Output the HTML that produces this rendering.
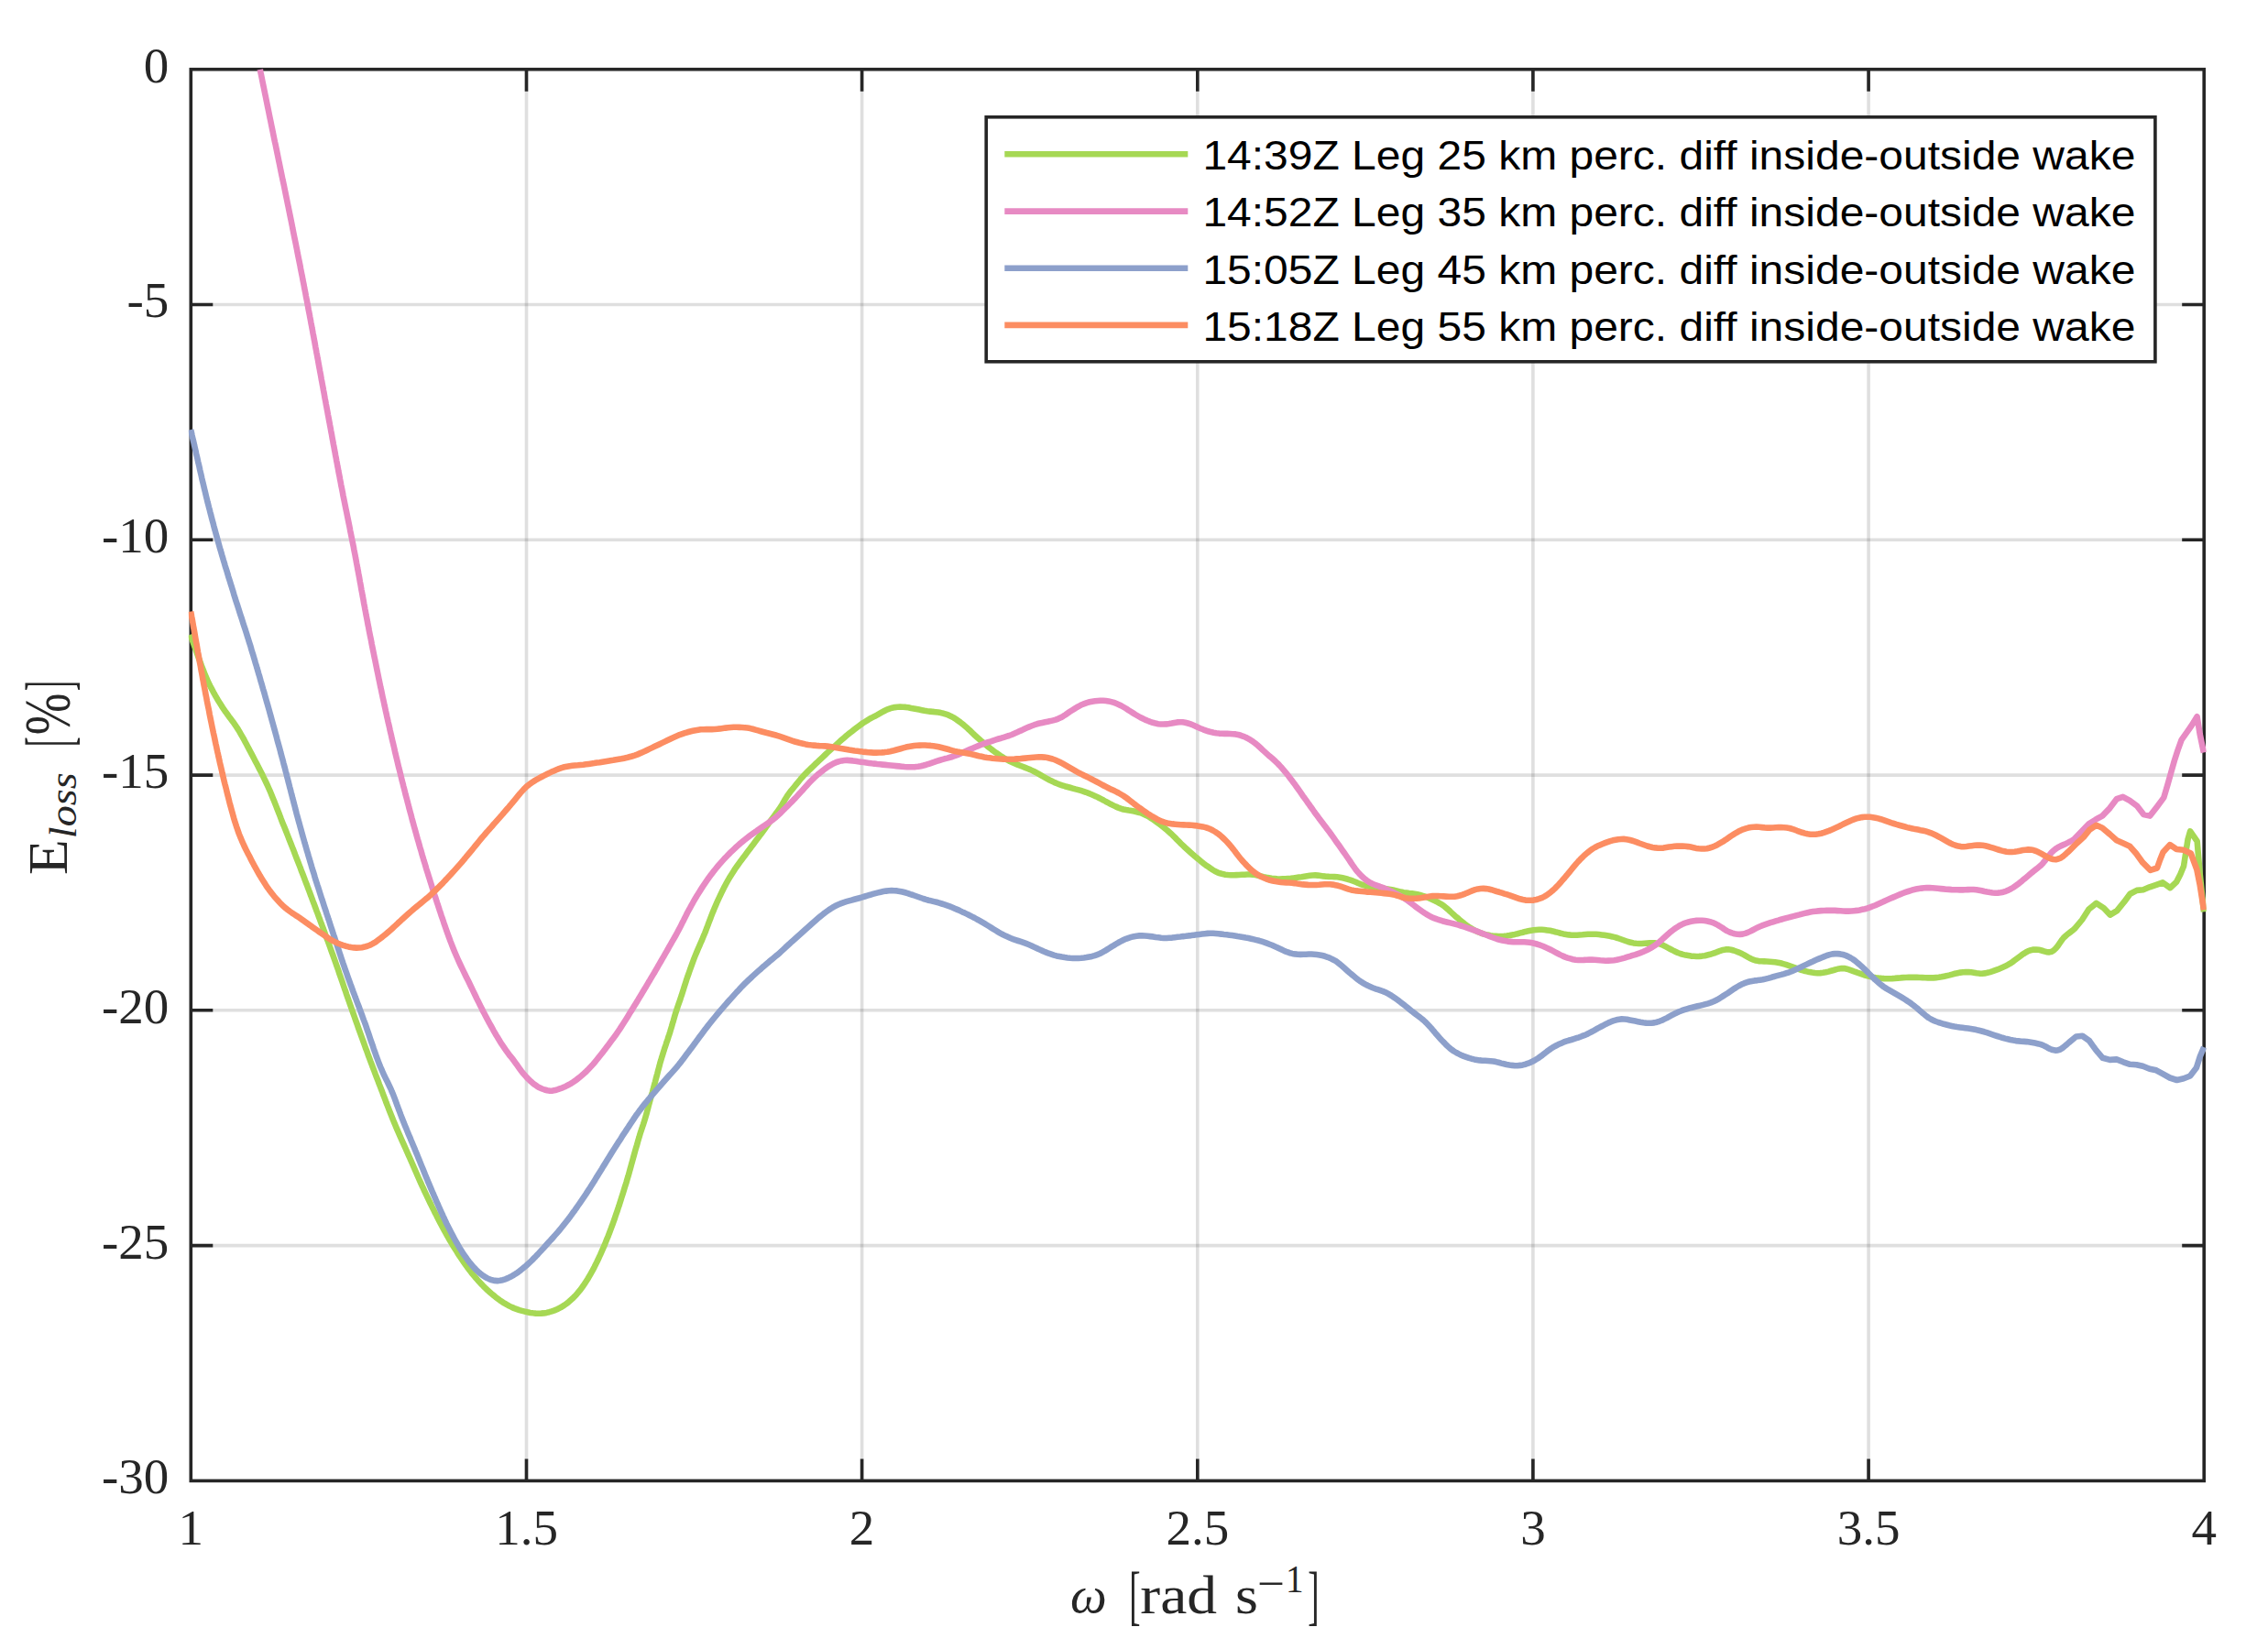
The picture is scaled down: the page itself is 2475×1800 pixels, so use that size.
<!DOCTYPE html>
<html lang="en"><head><meta charset="utf-8"><title>E loss vs omega</title>
<style>html,body{margin:0;padding:0;background:#fff}svg{display:block}</style></head>
<body>
<svg width="2475" height="1800" viewBox="0 0 2475 1800">
<rect width="2475" height="1800" fill="#fff"/>
<g stroke="#262626" stroke-opacity="0.15" stroke-width="3.6" fill="none"><path d="M574.5,75.7V1616.4"/><path d="M940.6,75.7V1616.4"/><path d="M1306.8,75.7V1616.4"/><path d="M1672.9,75.7V1616.4"/><path d="M2039.1,75.7V1616.4"/><path d="M208.3,332.5H2405.2"/><path d="M208.3,589.3H2405.2"/><path d="M208.3,846.1H2405.2"/><path d="M208.3,1102.8H2405.2"/><path d="M208.3,1359.6H2405.2"/></g>
<path d="M574.5,1616.4v-24.0M574.5,75.7v24.0M940.6,1616.4v-24.0M940.6,75.7v24.0M1306.8,1616.4v-24.0M1306.8,75.7v24.0M1672.9,1616.4v-24.0M1672.9,75.7v24.0M2039.1,1616.4v-24.0M2039.1,75.7v24.0M208.3,332.5h24.0M2405.2,332.5h-24.0M208.3,589.3h24.0M2405.2,589.3h-24.0M208.3,846.1h24.0M2405.2,846.1h-24.0M208.3,1102.8h24.0M2405.2,1102.8h-24.0M208.3,1359.6h24.0M2405.2,1359.6h-24.0" stroke="#262626" stroke-width="3.6" fill="none"/>
<rect x="208.3" y="75.7" width="2196.9" height="1540.7" fill="none" stroke="#262626" stroke-width="3.6"/>
<clipPath id="cp"><rect x="205.8" y="73.9" width="2201.9" height="1544.3"/></clipPath>
<g clip-path="url(#cp)" fill="none" stroke-width="6.6" stroke-linejoin="round" stroke-linecap="butt">
<path stroke="#A6D854" d="M207.6,692.8L208.7,695.6 209.7,698.5 210.8,701.3 211.8,704.1 212.8,706.9 213.8,709.8 214.8,712.6 215.8,715.4 216.8,718.2 217.9,721.0 218.9,723.9 219.9,726.7 221.0,729.5 222.1,732.3 223.2,735.1 224.3,737.8 225.5,740.6 226.7,743.3 228.0,746.1 229.3,748.8 230.7,751.4 232.1,754.1 233.5,756.7 235.0,759.3 236.5,761.9 238.0,764.5 239.6,767.0 241.2,769.6 242.8,772.1 244.5,774.6 246.2,777.1 248.0,779.5 249.7,781.9 251.5,784.3 253.3,786.7 255.1,789.1 256.8,791.6 258.5,794.1 260.1,796.6 261.6,799.2 263.1,801.8 264.6,804.4 266.1,807.0 267.5,809.7 268.9,812.3 270.3,815.0 271.7,817.6 273.1,820.3 274.5,822.9 275.9,825.6 277.3,828.2 278.7,830.9 280.1,833.6 281.5,836.2 282.8,838.9 284.2,841.5 285.6,844.2 286.9,846.9 288.2,849.6 289.5,852.3 290.8,855.0 292.1,857.7 293.3,860.5 294.5,863.2 295.7,866.0 296.8,868.8 297.9,871.5 299.1,874.3 300.2,877.1 301.3,879.9 302.4,882.7 303.5,885.5 304.6,888.3 305.7,891.1 306.7,893.9 307.8,896.7 308.9,899.4 310.1,902.2 311.2,905.0 312.3,907.8 313.4,910.6 314.5,913.4 315.6,916.2 316.7,919.0 317.8,921.8 318.9,924.6 320.0,927.3 321.1,930.1 322.1,932.9 323.2,935.7 324.3,938.5 325.4,941.3 326.5,944.1 327.6,946.9 328.6,949.7 329.7,952.5 330.8,955.3 331.9,958.1 332.9,960.9 334.0,963.7 335.1,966.5 336.1,969.3 337.2,972.1 338.3,975.0 339.3,977.8 340.4,980.6 341.4,983.4 342.5,986.2 343.5,989.0 344.6,991.8 345.6,994.6 346.7,997.4 347.7,1000.2 348.8,1003.0 349.8,1005.9 350.9,1008.7 351.9,1011.5 353.0,1014.3 354.0,1017.1 355.0,1019.9 356.1,1022.7 357.1,1025.6 358.2,1028.4 359.2,1031.2 360.2,1034.0 361.2,1036.8 362.2,1039.6 363.3,1042.5 364.3,1045.3 365.3,1048.1 366.3,1051.0 367.3,1053.8 368.3,1056.6 369.3,1059.4 370.2,1062.3 371.2,1065.1 372.2,1068.0 373.2,1070.8 374.1,1073.6 375.1,1076.5 376.1,1079.3 377.1,1082.1 378.0,1085.0 379.0,1087.8 380.0,1090.6 381.0,1093.5 382.0,1096.3 383.0,1099.1 384.0,1102.0 385.0,1104.8 386.0,1107.6 387.0,1110.5 388.0,1113.3 389.0,1116.1 390.0,1118.9 391.0,1121.8 392.0,1124.6 393.0,1127.4 394.0,1130.2 395.1,1133.1 396.1,1135.9 397.1,1138.7 398.1,1141.5 399.1,1144.3 400.2,1147.2 401.2,1150.0 402.2,1152.8 403.3,1155.6 404.3,1158.4 405.4,1161.2 406.4,1164.0 407.5,1166.8 408.6,1169.6 409.6,1172.4 410.7,1175.2 411.8,1178.0 412.9,1180.8 413.9,1183.6 415.0,1186.4 416.1,1189.2 417.2,1192.0 418.2,1194.8 419.3,1197.7 420.4,1200.5 421.4,1203.3 422.5,1206.1 423.6,1208.9 424.7,1211.7 425.8,1214.5 426.9,1217.2 428.0,1220.0 429.1,1222.8 430.3,1225.6 431.4,1228.3 432.6,1231.1 433.8,1233.9 435.0,1236.6 436.2,1239.4 437.4,1242.1 438.6,1244.8 439.9,1247.6 441.1,1250.3 442.3,1253.0 443.5,1255.8 444.7,1258.5 446.0,1261.3 447.2,1264.0 448.4,1266.8 449.6,1269.5 450.8,1272.3 452.0,1275.0 453.2,1277.8 454.4,1280.5 455.6,1283.3 456.8,1286.0 458.0,1288.7 459.3,1291.5 460.5,1294.2 461.8,1296.9 463.0,1299.6 464.3,1302.4 465.6,1305.1 466.9,1307.8 468.2,1310.5 469.5,1313.2 470.8,1315.9 472.1,1318.6 473.5,1321.3 474.8,1323.9 476.2,1326.6 477.5,1329.3 478.9,1332.0 480.3,1334.6 481.7,1337.3 483.1,1339.9 484.5,1342.6 486.0,1345.2 487.4,1347.8 488.9,1350.4 490.4,1353.0 491.9,1355.6 493.5,1358.2 495.0,1360.7 496.6,1363.3 498.2,1365.8 499.8,1368.4 501.4,1370.9 503.1,1373.4 504.8,1375.9 506.5,1378.4 508.2,1380.8 509.9,1383.2 511.7,1385.6 513.6,1388.0 515.4,1390.4 517.3,1392.7 519.3,1395.0 521.2,1397.2 523.3,1399.5 525.3,1401.6 527.4,1403.8 529.5,1405.9 531.7,1408.0 533.9,1410.0 536.2,1412.0 538.5,1413.9 540.8,1415.8 543.2,1417.6 545.6,1419.4 548.1,1421.1 550.6,1422.7 553.2,1424.2 555.8,1425.6 558.5,1426.9 561.3,1428.1 564.1,1429.1 566.9,1430.1 569.8,1430.9 572.7,1431.6 575.7,1432.3 578.6,1432.9 581.6,1433.3 584.5,1433.6 587.5,1433.7 590.5,1433.6 593.5,1433.4 596.5,1432.9 599.4,1432.2 602.2,1431.4 605.1,1430.4 607.8,1429.3 610.5,1427.9 613.1,1426.5 615.6,1424.9 618.1,1423.1 620.4,1421.3 622.7,1419.3 624.9,1417.3 627.0,1415.2 629.1,1413.0 631.0,1410.7 632.9,1408.4 634.7,1406.0 636.5,1403.5 638.1,1401.1 639.8,1398.5 641.4,1396.0 642.9,1393.4 644.4,1390.8 645.9,1388.2 647.3,1385.6 648.7,1382.9 650.0,1380.2 651.4,1377.5 652.7,1374.8 653.9,1372.1 655.2,1369.4 656.4,1366.7 657.6,1363.9 658.8,1361.2 660.0,1358.4 661.1,1355.6 662.2,1352.8 663.4,1350.0 664.4,1347.3 665.5,1344.5 666.6,1341.6 667.6,1338.8 668.7,1336.0 669.7,1333.2 670.7,1330.4 671.6,1327.5 672.6,1324.7 673.6,1321.8 674.5,1319.0 675.5,1316.2 676.4,1313.3 677.3,1310.4 678.2,1307.6 679.1,1304.7 680.0,1301.9 680.9,1299.0 681.8,1296.1 682.7,1293.3 683.6,1290.4 684.4,1287.5 685.3,1284.6 686.1,1281.8 686.9,1278.9 687.7,1276.0 688.5,1273.1 689.3,1270.2 690.1,1267.3 690.9,1264.4 691.7,1261.5 692.5,1258.6 693.3,1255.7 694.1,1252.9 695.0,1250.0 695.8,1247.1 696.6,1244.2 697.5,1241.3 698.3,1238.5 699.2,1235.6 700.2,1232.7 701.1,1229.9 702.1,1227.1 703.0,1224.2 703.9,1221.3 704.7,1218.5 705.6,1215.6 706.3,1212.7 707.1,1209.8 707.8,1206.9 708.6,1204.0 709.4,1201.1 710.2,1198.2 711.0,1195.3 711.9,1192.4 712.7,1189.5 713.4,1186.6 714.2,1183.7 715.0,1180.8 715.7,1177.9 716.5,1175.0 717.3,1172.1 718.0,1169.2 718.8,1166.3 719.6,1163.4 720.3,1160.5 721.2,1157.6 722.0,1154.8 722.9,1151.9 723.8,1149.0 724.7,1146.2 725.6,1143.3 726.6,1140.5 727.5,1137.6 728.5,1134.8 729.4,1131.9 730.4,1129.1 731.3,1126.2 732.1,1123.4 733.0,1120.5 733.8,1117.6 734.7,1114.7 735.5,1111.8 736.3,1109.0 737.2,1106.1 738.1,1103.2 739.0,1100.4 740.0,1097.5 741.0,1094.7 742.0,1091.9 742.9,1089.0 743.9,1086.2 744.8,1083.3 745.7,1080.5 746.6,1077.6 747.5,1074.7 748.4,1071.9 749.3,1069.0 750.3,1066.2 751.3,1063.3 752.3,1060.5 753.3,1057.7 754.3,1054.9 755.3,1052.1 756.4,1049.2 757.4,1046.4 758.5,1043.6 759.6,1040.9 760.8,1038.1 762.0,1035.3 763.2,1032.6 764.4,1029.8 765.6,1027.1 766.8,1024.3 767.9,1021.6 769.1,1018.8 770.2,1016.0 771.2,1013.2 772.3,1010.4 773.3,1007.6 774.4,1004.8 775.5,1002.0 776.5,999.2 777.6,996.4 778.8,993.6 779.9,990.8 781.1,988.1 782.3,985.3 783.5,982.6 784.8,979.9 786.1,977.1 787.4,974.4 788.7,971.8 790.0,969.1 791.4,966.4 792.8,963.8 794.3,961.2 795.8,958.6 797.4,956.0 799.0,953.5 800.6,950.9 802.2,948.4 803.9,946.0 805.7,943.5 807.4,941.1 809.2,938.7 811.0,936.3 812.8,933.9 814.6,931.5 816.4,929.1 818.2,926.7 820.0,924.3 821.8,921.9 823.6,919.5 825.4,917.1 827.2,914.7 829.0,912.3 830.8,909.9 832.6,907.5 834.4,905.0 836.1,902.6 837.9,900.2 839.6,897.7 841.4,895.3 843.2,892.9 845.0,890.5 846.7,888.1 848.5,885.7 850.3,883.2 851.9,880.7 853.5,878.2 855.0,875.6 856.5,873.0 858.1,870.4 859.7,867.9 861.5,865.5 863.3,863.1 865.2,860.8 867.1,858.5 869.0,856.1 870.9,853.8 872.8,851.5 874.7,849.2 876.7,847.0 878.8,844.8 880.9,842.7 883.0,840.6 885.2,838.5 887.4,836.4 889.5,834.3 891.7,832.3 893.9,830.2 896.1,828.1 898.2,826.1 900.4,824.0 902.6,821.9 904.8,819.9 907.0,817.9 909.2,815.9 911.5,813.9 913.7,811.9 915.9,809.9 918.2,807.8 920.4,805.9 922.7,803.9 925.0,802.0 927.3,800.1 929.7,798.3 932.1,796.4 934.4,794.6 936.8,792.8 939.3,791.0 941.7,789.3 944.2,787.7 946.8,786.1 949.3,784.5 952.0,783.1 954.7,781.8 957.3,780.4 959.9,778.9 962.5,777.4 965.1,776.0 967.8,774.6 970.6,773.6 973.5,772.7 976.4,772.1 979.4,771.8 982.3,771.6 985.3,771.7 988.3,771.9 991.3,772.3 994.2,772.9 997.2,773.4 1000.1,774.0 1003.0,774.6 1006.0,775.2 1008.9,775.8 1011.9,776.3 1014.9,776.6 1017.8,776.9 1020.8,777.2 1023.8,777.6 1026.7,778.1 1029.7,778.8 1032.5,779.7 1035.3,780.7 1038.0,782.0 1040.7,783.4 1043.2,785.0 1045.6,786.7 1048.1,788.5 1050.4,790.3 1052.7,792.3 1055.0,794.2 1057.2,796.3 1059.4,798.3 1061.5,800.4 1063.7,802.5 1065.9,804.5 1068.2,806.5 1070.4,808.5 1072.7,810.4 1075.0,812.4 1077.3,814.3 1079.6,816.1 1082.0,818.0 1084.4,819.8 1086.8,821.6 1089.3,823.3 1091.8,825.0 1094.3,826.6 1096.8,828.2 1099.5,829.6 1102.1,831.0 1104.8,832.2 1107.6,833.4 1110.4,834.6 1113.2,835.7 1115.9,836.8 1118.7,837.9 1121.5,839.0 1124.3,840.1 1127.0,841.4 1129.7,842.8 1132.3,844.2 1134.9,845.7 1137.5,847.2 1140.1,848.6 1142.8,850.1 1145.4,851.5 1148.1,852.8 1150.8,854.1 1153.6,855.3 1156.4,856.4 1159.2,857.3 1162.1,858.2 1165.0,859.0 1167.9,859.8 1170.7,860.6 1173.6,861.4 1176.5,862.1 1179.4,862.9 1182.3,863.8 1185.1,864.8 1187.9,865.9 1190.7,867.0 1193.5,868.2 1196.2,869.4 1198.9,870.7 1201.6,872.1 1204.2,873.5 1206.8,875.0 1209.5,876.4 1212.1,877.8 1214.8,879.1 1217.5,880.4 1220.3,881.6 1223.1,882.6 1225.9,883.5 1228.9,884.1 1231.8,884.6 1234.8,885.0 1237.7,885.5 1240.6,886.2 1243.5,887.0 1246.4,888.0 1249.1,889.2 1251.8,890.5 1254.4,892.0 1256.9,893.6 1259.4,895.3 1261.8,897.0 1264.3,898.8 1266.7,900.6 1269.0,902.4 1271.4,904.3 1273.7,906.2 1275.9,908.2 1278.1,910.2 1280.3,912.3 1282.4,914.4 1284.5,916.6 1286.6,918.7 1288.7,920.8 1290.9,922.9 1293.1,925.0 1295.3,927.0 1297.5,929.0 1299.7,931.0 1302.0,933.0 1304.3,935.0 1306.6,936.9 1308.9,938.8 1311.2,940.7 1313.5,942.6 1315.9,944.4 1318.4,946.1 1320.8,947.8 1323.4,949.5 1325.9,951.0 1328.6,952.3 1331.4,953.3 1334.3,954.1 1337.2,954.7 1340.2,955.0 1343.2,955.2 1346.2,955.2 1349.2,955.1 1352.2,955.0 1355.2,954.8 1358.2,954.7 1361.2,954.5 1364.1,954.5 1367.1,954.7 1370.1,955.1 1373.0,955.7 1375.9,956.4 1378.8,957.2 1381.8,957.8 1384.7,958.3 1387.7,958.8 1390.7,959.1 1393.6,959.4 1396.6,959.5 1399.6,959.4 1402.6,959.3 1405.6,959.0 1408.6,958.8 1411.6,958.4 1414.6,958.0 1417.5,957.6 1420.5,957.2 1423.4,956.7 1426.4,956.2 1429.4,955.8 1432.3,955.5 1435.3,955.4 1438.3,955.6 1441.3,956.0 1444.2,956.4 1447.2,956.7 1450.2,956.9 1453.2,957.0 1456.2,957.1 1459.2,957.3 1462.2,957.7 1465.1,958.3 1468.0,959.0 1470.9,959.8 1473.7,960.7 1476.6,961.7 1479.4,962.8 1482.1,964.0 1484.9,965.1 1487.7,966.1 1490.6,966.9 1493.5,967.6 1496.5,968.2 1499.4,968.7 1502.4,969.1 1505.4,969.4 1508.3,969.7 1511.3,970.0 1514.3,970.4 1517.3,970.9 1520.2,971.5 1523.1,972.2 1526.0,972.9 1528.9,973.6 1531.9,974.2 1534.8,974.6 1537.8,975.0 1540.8,975.3 1543.8,975.7 1546.7,976.2 1549.6,976.9 1552.5,977.8 1555.3,978.7 1558.1,979.8 1560.9,981.0 1563.6,982.2 1566.4,983.5 1569.0,984.8 1571.6,986.3 1574.2,987.9 1576.6,989.7 1578.9,991.6 1581.1,993.5 1583.3,995.6 1585.5,997.6 1587.7,999.7 1590.0,1001.6 1592.3,1003.6 1594.6,1005.5 1596.9,1007.4 1599.2,1009.3 1601.7,1011.0 1604.2,1012.7 1606.8,1014.2 1609.4,1015.6 1612.1,1016.9 1614.9,1018.0 1617.7,1019.1 1620.6,1019.9 1623.5,1020.6 1626.4,1021.2 1629.4,1021.7 1632.3,1021.9 1635.3,1022.1 1638.3,1022.1 1641.3,1021.9 1644.3,1021.6 1647.3,1021.1 1650.2,1020.5 1653.1,1019.9 1656.0,1019.2 1659.0,1018.4 1661.8,1017.7 1664.7,1016.9 1667.7,1016.3 1670.6,1015.7 1673.6,1015.3 1676.6,1015.0 1679.6,1014.8 1682.5,1014.8 1685.5,1015.0 1688.5,1015.4 1691.5,1015.8 1694.4,1016.4 1697.3,1017.2 1700.2,1017.9 1703.1,1018.7 1706.0,1019.4 1709.0,1019.9 1711.9,1020.4 1714.9,1020.7 1717.9,1020.8 1720.9,1020.7 1723.9,1020.5 1726.9,1020.3 1729.9,1020.0 1732.8,1019.8 1735.8,1019.7 1738.8,1019.7 1741.8,1019.8 1744.8,1020.0 1747.8,1020.4 1750.8,1020.8 1753.7,1021.3 1756.7,1021.8 1759.6,1022.4 1762.5,1023.1 1765.4,1024.0 1768.2,1025.0 1771.0,1026.0 1773.8,1027.0 1776.7,1028.0 1779.6,1028.7 1782.5,1029.4 1785.5,1029.8 1788.5,1030.0 1791.4,1030.0 1794.4,1029.8 1797.4,1029.6 1800.4,1029.4 1803.4,1029.3 1806.4,1029.4 1809.3,1029.8 1812.1,1030.6 1814.9,1031.8 1817.5,1033.2 1820.2,1034.6 1822.8,1036.0 1825.5,1037.4 1828.2,1038.7 1830.9,1040.0 1833.7,1041.0 1836.6,1041.9 1839.5,1042.6 1842.4,1043.1 1845.4,1043.6 1848.4,1043.8 1851.3,1044.0 1854.3,1043.9 1857.3,1043.6 1860.3,1043.2 1863.2,1042.5 1866.1,1041.8 1869.0,1040.9 1871.8,1040.0 1874.6,1038.9 1877.4,1037.8 1880.2,1036.9 1883.1,1036.4 1886.1,1036.3 1889.0,1036.7 1891.9,1037.5 1894.7,1038.5 1897.5,1039.6 1900.2,1040.8 1902.9,1042.1 1905.5,1043.6 1908.1,1045.1 1910.8,1046.5 1913.5,1047.7 1916.3,1048.6 1919.2,1049.1 1922.2,1049.3 1925.2,1049.4 1928.2,1049.5 1931.2,1049.7 1934.2,1050.0 1937.2,1050.3 1940.1,1050.7 1943.1,1051.3 1946.0,1052.1 1948.8,1052.9 1951.7,1053.9 1954.5,1054.8 1957.3,1055.8 1960.2,1056.8 1963.0,1057.8 1965.8,1058.8 1968.7,1059.7 1971.6,1060.4 1974.5,1061.1 1977.5,1061.6 1980.4,1062.0 1983.4,1062.2 1986.4,1062.1 1989.4,1061.8 1992.3,1061.3 1995.2,1060.6 1998.1,1059.8 2001.0,1059.0 2003.9,1058.1 2006.8,1057.4 2009.7,1057.0 2012.6,1057.1 2015.5,1057.7 2018.4,1058.6 2021.2,1059.6 2024.0,1060.7 2026.8,1061.7 2029.6,1062.6 2032.5,1063.6 2035.3,1064.5 2038.2,1065.4 2041.1,1066.1 2044.1,1066.7 2047.0,1067.2 2050.0,1067.6 2053.0,1067.9 2056.0,1068.1 2059.0,1068.2 2061.9,1068.2 2064.9,1068.1 2067.9,1067.9 2070.9,1067.6 2073.9,1067.4 2076.9,1067.1 2079.9,1067.0 2082.9,1066.9 2085.9,1066.9 2088.9,1066.9 2091.9,1066.9 2094.9,1067.0 2097.9,1067.1 2100.9,1067.2 2103.9,1067.4 2106.9,1067.4 2109.9,1067.4 2112.8,1067.1 2115.8,1066.8 2118.8,1066.3 2121.7,1065.7 2124.7,1065.1 2127.6,1064.4 2130.5,1063.6 2133.4,1062.8 2136.3,1062.2 2139.2,1061.6 2142.2,1061.3 2145.2,1061.1 2148.2,1061.0 2151.1,1061.3 2154.1,1061.7 2157.0,1062.2 2160.0,1062.6 2163.0,1062.7 2165.9,1062.4 2168.8,1061.8 2171.7,1061.1 2174.6,1060.2 2177.4,1059.2 2180.2,1058.2 2183.0,1057.0 2185.8,1055.8 2188.5,1054.6 2191.1,1053.2 2193.7,1051.7 2196.2,1050.0 2198.6,1048.2 2201.0,1046.4 2203.4,1044.6 2205.8,1042.8 2208.3,1041.1 2210.8,1039.5 2213.4,1038.1 2216.2,1037.2 2219.1,1036.6 2222.1,1036.5 2225.0,1036.8 2227.9,1037.5 2230.7,1038.4 2233.5,1039.2 2236.3,1039.4 2239.0,1038.7 2241.4,1037.2 2243.5,1035.2 2245.4,1032.9 2247.1,1030.4 2248.8,1027.9 2250.5,1025.5 2252.4,1023.2 2254.6,1021.2 2256.9,1019.3 2259.3,1017.5 2261.7,1015.7 2263.6,1014.1 2263.9,1013.8 2272.1,1004.0 2279.5,992.5 2287.7,985.9 2295.8,991.3 2302.8,998.6 2310.2,994.1 2317.9,984.7 2324.5,975.7 2331.9,971.9 2338.8,971.2 2345.8,968.3 2353.1,965.9 2360.1,963.4 2368.3,969.2 2375.2,962.6 2379.3,954.4 2383.0,945.4 2387.5,916.4 2390.1,907.4 2394.1,913.1 2397.7,918.4 2400.6,953.2 2405.0,995.4"/>
<path stroke="#E78AC3" d="M283.8,75.9L284.4,78.8 285.0,81.7 285.6,84.7 286.2,87.6 286.8,90.6 287.4,93.5 288.0,96.4 288.6,99.4 289.2,102.3 289.8,105.2 290.4,108.2 291.0,111.1 291.6,114.1 292.2,117.0 292.8,119.9 293.4,122.9 294.0,125.8 294.6,128.8 295.2,131.7 295.8,134.6 296.4,137.6 297.0,140.5 297.6,143.4 298.2,146.4 298.8,149.3 299.4,152.3 300.0,155.2 300.7,158.1 301.3,161.1 301.9,164.0 302.5,167.0 303.1,169.9 303.7,172.8 304.3,175.8 304.9,178.7 305.5,181.6 306.1,184.6 306.7,187.5 307.3,190.5 307.9,193.4 308.5,196.3 309.2,199.3 309.8,202.2 310.4,205.1 311.0,208.1 311.6,211.0 312.2,214.0 312.8,216.9 313.4,219.8 314.0,222.8 314.6,225.7 315.2,228.7 315.8,231.6 316.4,234.5 317.0,237.5 317.6,240.4 318.2,243.4 318.8,246.3 319.3,249.2 319.9,252.2 320.5,255.1 321.1,258.1 321.7,261.0 322.3,263.9 322.9,266.9 323.5,269.8 324.1,272.8 324.6,275.7 325.2,278.7 325.8,281.6 326.4,284.5 327.0,287.5 327.6,290.4 328.1,293.4 328.7,296.3 329.3,299.3 329.9,302.2 330.4,305.2 331.0,308.1 331.6,311.0 332.1,314.0 332.7,316.9 333.3,319.9 333.8,322.8 334.4,325.8 335.0,328.7 335.5,331.7 336.1,334.6 336.6,337.6 337.2,340.5 337.8,343.5 338.3,346.4 338.9,349.4 339.4,352.3 340.0,355.3 340.5,358.2 341.1,361.2 341.6,364.1 342.2,367.0 342.7,370.0 343.3,372.9 343.8,375.9 344.3,378.8 344.9,381.8 345.4,384.8 346.0,387.7 346.5,390.7 347.1,393.6 347.6,396.6 348.1,399.5 348.7,402.5 349.2,405.4 349.8,408.4 350.3,411.3 350.8,414.3 351.4,417.2 351.9,420.2 352.5,423.1 353.0,426.1 353.6,429.0 354.1,432.0 354.6,434.9 355.2,437.9 355.7,440.8 356.3,443.8 356.8,446.7 357.4,449.7 357.9,452.6 358.5,455.6 359.0,458.5 359.6,461.5 360.1,464.4 360.7,467.4 361.2,470.3 361.8,473.3 362.3,476.2 362.8,479.2 363.4,482.1 363.9,485.1 364.5,488.0 365.0,491.0 365.6,493.9 366.1,496.9 366.7,499.8 367.2,502.8 367.8,505.7 368.3,508.7 368.9,511.6 369.4,514.5 370.0,517.5 370.6,520.4 371.1,523.4 371.7,526.3 372.2,529.3 372.8,532.2 373.4,535.2 374.0,538.1 374.5,541.1 375.1,544.0 375.7,546.9 376.3,549.9 376.9,552.8 377.5,555.8 378.1,558.7 378.7,561.7 379.3,564.6 379.9,567.5 380.5,570.5 381.1,573.4 381.7,576.4 382.2,579.3 382.8,582.2 383.4,585.2 384.0,588.1 384.6,591.1 385.2,594.0 385.8,596.9 386.3,599.9 386.9,602.8 387.5,605.8 388.0,608.7 388.6,611.7 389.1,614.6 389.7,617.6 390.2,620.5 390.8,623.5 391.3,626.4 391.9,629.4 392.4,632.3 392.9,635.3 393.5,638.2 394.0,641.2 394.5,644.1 395.1,647.1 395.6,650.0 396.2,653.0 396.7,655.9 397.2,658.9 397.8,661.8 398.3,664.8 398.9,667.7 399.4,670.7 400.0,673.6 400.6,676.6 401.1,679.5 401.7,682.5 402.3,685.4 402.8,688.4 403.4,691.3 404.0,694.3 404.6,697.2 405.2,700.1 405.7,703.1 406.3,706.0 406.9,709.0 407.5,711.9 408.1,714.9 408.7,717.8 409.3,720.7 409.9,723.7 410.5,726.6 411.1,729.6 411.7,732.5 412.3,735.4 412.9,738.4 413.5,741.3 414.1,744.2 414.7,747.2 415.3,750.1 416.0,753.0 416.6,756.0 417.2,758.9 417.8,761.8 418.5,764.8 419.1,767.7 419.7,770.6 420.4,773.6 421.0,776.5 421.7,779.4 422.3,782.4 423.0,785.3 423.6,788.2 424.3,791.1 425.0,794.1 425.6,797.0 426.3,799.9 427.0,802.8 427.6,805.8 428.3,808.7 429.0,811.6 429.7,814.5 430.4,817.5 431.0,820.4 431.7,823.3 432.4,826.2 433.1,829.1 433.8,832.0 434.5,835.0 435.2,837.9 436.0,840.8 436.7,843.7 437.4,846.6 438.1,849.5 438.8,852.4 439.6,855.3 440.3,858.3 441.1,861.2 441.8,864.1 442.5,867.0 443.3,869.9 444.1,872.8 444.8,875.7 445.6,878.6 446.3,881.5 447.1,884.4 447.9,887.3 448.7,890.2 449.4,893.1 450.2,896.0 451.0,898.9 451.8,901.8 452.6,904.7 453.4,907.5 454.2,910.4 455.0,913.3 455.8,916.2 456.7,919.1 457.5,922.0 458.3,924.9 459.2,927.7 460.0,930.6 460.8,933.5 461.7,936.4 462.5,939.3 463.4,942.1 464.3,945.0 465.1,947.9 466.0,950.7 466.9,953.6 467.8,956.5 468.7,959.3 469.6,962.2 470.5,965.1 471.4,967.9 472.3,970.8 473.2,973.6 474.1,976.5 475.1,979.3 476.0,982.2 476.9,985.1 477.9,987.9 478.8,990.8 479.7,993.6 480.7,996.4 481.6,999.3 482.6,1002.1 483.6,1005.0 484.5,1007.8 485.5,1010.6 486.5,1013.5 487.5,1016.3 488.5,1019.1 489.5,1022.0 490.6,1024.8 491.6,1027.6 492.7,1030.4 493.8,1033.2 494.9,1036.0 496.0,1038.7 497.2,1041.5 498.4,1044.3 499.6,1047.0 500.8,1049.7 502.1,1052.5 503.4,1055.2 504.7,1057.9 506.0,1060.6 507.3,1063.3 508.6,1066.0 509.9,1068.6 511.3,1071.3 512.6,1074.0 513.9,1076.7 515.2,1079.4 516.5,1082.1 517.8,1084.8 519.1,1087.5 520.4,1090.2 521.8,1092.9 523.1,1095.6 524.4,1098.3 525.8,1101.0 527.1,1103.7 528.5,1106.3 529.9,1109.0 531.3,1111.6 532.7,1114.3 534.1,1116.9 535.6,1119.5 537.1,1122.2 538.5,1124.8 540.0,1127.4 541.5,1130.0 543.1,1132.5 544.6,1135.1 546.2,1137.7 547.8,1140.2 549.5,1142.7 551.2,1145.2 552.9,1147.6 554.7,1150.0 556.5,1152.4 558.4,1154.7 560.3,1157.1 562.0,1159.5 563.8,1161.9 565.5,1164.4 567.2,1166.8 569.0,1169.2 570.9,1171.6 572.9,1173.9 574.9,1176.1 576.9,1178.2 579.1,1180.3 581.4,1182.3 583.7,1184.1 586.2,1185.8 588.8,1187.3 591.5,1188.5 594.3,1189.5 597.2,1190.3 600.1,1190.7 603.1,1190.6 605.9,1190.1 608.8,1189.2 611.6,1188.2 614.4,1187.1 617.1,1185.9 619.8,1184.5 622.4,1183.1 625.0,1181.5 627.5,1179.8 629.9,1178.0 632.2,1176.2 634.5,1174.3 636.8,1172.3 639.0,1170.3 641.1,1168.2 643.2,1166.0 645.3,1163.8 647.3,1161.6 649.2,1159.3 651.1,1157.0 653.0,1154.7 654.9,1152.3 656.7,1150.0 658.6,1147.6 660.4,1145.2 662.2,1142.8 664.0,1140.4 665.8,1138.0 667.6,1135.6 669.4,1133.2 671.2,1130.8 672.9,1128.3 674.6,1125.9 676.3,1123.4 677.9,1120.9 679.6,1118.3 681.2,1115.8 682.8,1113.3 684.4,1110.7 685.9,1108.2 687.5,1105.6 689.1,1103.1 690.7,1100.5 692.2,1098.0 693.8,1095.4 695.4,1092.9 696.9,1090.3 698.5,1087.7 700.0,1085.2 701.6,1082.6 703.1,1080.0 704.7,1077.4 706.2,1074.9 707.7,1072.3 709.3,1069.7 710.8,1067.1 712.3,1064.6 713.9,1062.0 715.4,1059.4 716.9,1056.8 718.4,1054.2 719.9,1051.6 721.4,1049.0 722.9,1046.4 724.4,1043.8 725.9,1041.2 727.4,1038.6 728.9,1036.0 730.3,1033.4 731.8,1030.8 733.3,1028.2 734.8,1025.6 736.3,1023.0 737.8,1020.3 739.2,1017.7 740.6,1015.1 742.0,1012.4 743.4,1009.7 744.7,1007.1 746.1,1004.4 747.4,1001.7 748.8,999.0 750.1,996.3 751.5,993.7 753.0,991.1 754.4,988.4 755.9,985.8 757.3,983.2 758.9,980.6 760.4,978.0 762.0,975.5 763.6,972.9 765.2,970.4 766.8,967.9 768.5,965.4 770.2,962.9 771.9,960.4 773.6,958.0 775.4,955.6 777.2,953.2 779.0,950.8 780.9,948.5 782.8,946.2 784.7,943.9 786.7,941.6 788.7,939.4 790.7,937.1 792.8,935.0 794.9,932.8 797.0,930.7 799.2,928.6 801.3,926.6 803.5,924.5 805.8,922.5 808.0,920.5 810.3,918.6 812.6,916.7 815.0,914.8 817.4,913.0 819.8,911.2 822.2,909.5 824.7,907.8 827.1,906.0 829.6,904.3 832.1,902.6 834.5,900.9 837.0,899.2 839.5,897.5 841.9,895.8 844.3,894.0 846.7,892.1 848.9,890.1 851.1,888.1 853.2,886.0 855.3,883.8 857.5,881.7 859.6,879.6 861.7,877.5 863.8,875.4 865.9,873.2 868.0,871.1 870.0,868.9 872.1,866.6 874.1,864.4 876.1,862.2 878.1,859.9 880.1,857.7 882.1,855.5 884.1,853.3 886.3,851.2 888.4,849.1 890.6,847.1 892.9,845.1 895.2,843.2 897.6,841.3 899.9,839.5 902.4,837.8 904.9,836.1 907.5,834.6 910.1,833.2 912.8,832.0 915.7,831.1 918.6,830.4 921.5,830.0 924.5,829.9 927.5,830.1 930.5,830.4 933.4,830.8 936.4,831.3 939.4,831.7 942.3,832.1 945.3,832.5 948.3,832.9 951.3,833.3 954.2,833.6 957.2,834.0 960.2,834.3 963.2,834.6 966.2,834.9 969.2,835.2 972.2,835.5 975.1,835.8 978.1,836.1 981.1,836.4 984.1,836.7 987.1,837.0 990.1,837.2 993.1,837.3 996.1,837.3 999.0,837.1 1002.0,836.7 1005.0,836.2 1007.9,835.5 1010.8,834.7 1013.6,833.8 1016.5,832.8 1019.3,831.9 1022.1,830.9 1025.0,830.0 1027.9,829.1 1030.7,828.3 1033.6,827.6 1036.6,826.8 1039.4,826.0 1042.3,825.0 1045.1,823.9 1047.8,822.7 1050.5,821.5 1053.3,820.3 1056.0,819.1 1058.8,817.9 1061.5,816.7 1064.3,815.5 1067.1,814.4 1069.9,813.3 1072.7,812.2 1075.5,811.2 1078.3,810.2 1081.2,809.3 1084.0,808.3 1086.9,807.4 1089.7,806.5 1092.6,805.7 1095.5,804.8 1098.3,803.9 1101.2,803.0 1104.0,802.0 1106.8,800.8 1109.5,799.6 1112.2,798.3 1115.0,797.1 1117.7,795.8 1120.4,794.6 1123.2,793.4 1126.0,792.3 1128.8,791.2 1131.6,790.3 1134.5,789.5 1137.4,788.9 1140.4,788.3 1143.3,787.7 1146.2,787.1 1149.2,786.4 1152.0,785.6 1154.8,784.6 1157.6,783.3 1160.2,781.8 1162.7,780.2 1165.1,778.5 1167.6,776.8 1170.1,775.2 1172.7,773.6 1175.2,772.0 1177.9,770.6 1180.5,769.2 1183.3,768.1 1186.1,767.1 1189.0,766.3 1191.9,765.7 1194.9,765.3 1197.9,765.0 1200.8,764.8 1203.8,764.8 1206.8,765.0 1209.8,765.4 1212.7,766.1 1215.6,766.9 1218.4,768.0 1221.1,769.2 1223.8,770.5 1226.4,772.0 1229.0,773.5 1231.5,775.2 1234.0,776.8 1236.5,778.4 1239.1,780.0 1241.7,781.5 1244.3,783.0 1246.9,784.3 1249.6,785.6 1252.4,786.8 1255.2,787.9 1258.0,788.8 1260.9,789.6 1263.9,790.2 1266.8,790.5 1269.8,790.5 1272.8,790.4 1275.8,790.0 1278.7,789.5 1281.6,788.9 1284.6,788.4 1287.5,788.2 1290.5,788.3 1293.4,788.8 1296.3,789.5 1299.2,790.4 1302.0,791.5 1304.7,792.7 1307.4,794.0 1310.2,795.2 1313.0,796.3 1315.8,797.3 1318.6,798.3 1321.5,799.1 1324.4,799.7 1327.4,800.2 1330.4,800.6 1333.3,800.7 1336.3,800.9 1339.3,800.9 1342.3,801.0 1345.3,801.2 1348.3,801.4 1351.2,802.0 1354.1,802.8 1356.9,803.8 1359.7,805.0 1362.3,806.4 1364.9,807.9 1367.4,809.6 1369.8,811.4 1372.1,813.3 1374.3,815.3 1376.5,817.3 1378.7,819.4 1380.9,821.4 1383.1,823.4 1385.4,825.4 1387.7,827.3 1389.9,829.3 1392.1,831.3 1394.3,833.4 1396.4,835.6 1398.4,837.8 1400.4,840.1 1402.3,842.4 1404.2,844.7 1406.1,847.0 1407.9,849.4 1409.7,851.8 1411.5,854.2 1413.3,856.6 1415.0,859.0 1416.8,861.5 1418.5,863.9 1420.2,866.4 1421.9,868.9 1423.7,871.3 1425.4,873.7 1427.1,876.2 1428.9,878.6 1430.6,881.1 1432.4,883.5 1434.1,886.0 1435.9,888.4 1437.7,890.8 1439.4,893.2 1441.2,895.6 1443.1,898.0 1444.9,900.4 1446.7,902.8 1448.5,905.2 1450.3,907.6 1452.1,910.0 1453.8,912.4 1455.6,914.9 1457.3,917.3 1459.0,919.8 1460.8,922.2 1462.5,924.7 1464.2,927.1 1465.9,929.6 1467.7,932.0 1469.4,934.5 1471.1,937.0 1472.8,939.4 1474.4,941.9 1476.1,944.4 1477.9,946.9 1479.6,949.3 1481.5,951.6 1483.5,953.9 1485.6,956.0 1487.8,958.1 1490.1,960.0 1492.5,961.8 1495.0,963.3 1497.6,964.7 1500.4,965.8 1503.2,966.8 1506.0,967.9 1508.8,968.9 1511.6,970.1 1514.4,971.3 1517.1,972.5 1519.8,973.8 1522.5,975.1 1525.2,976.5 1527.8,977.9 1530.4,979.4 1533.0,980.9 1535.5,982.6 1537.9,984.3 1540.3,986.1 1542.7,988.0 1545.0,989.8 1547.4,991.6 1549.9,993.4 1552.3,995.1 1554.8,996.8 1557.4,998.4 1560.0,999.9 1562.6,1001.2 1565.4,1002.4 1568.2,1003.4 1571.1,1004.3 1573.9,1005.2 1576.8,1006.0 1579.7,1006.7 1582.6,1007.4 1585.6,1008.1 1588.5,1008.9 1591.4,1009.6 1594.2,1010.5 1597.1,1011.4 1600.0,1012.3 1602.8,1013.3 1605.6,1014.3 1608.4,1015.3 1611.2,1016.4 1614.0,1017.5 1616.8,1018.6 1619.6,1019.7 1622.4,1020.8 1625.2,1021.9 1628.0,1023.0 1630.8,1024.0 1633.6,1025.0 1636.5,1025.8 1639.4,1026.5 1642.4,1027.1 1645.3,1027.6 1648.3,1027.9 1651.3,1028.2 1654.3,1028.3 1657.3,1028.3 1660.3,1028.3 1663.3,1028.3 1666.3,1028.5 1669.2,1028.8 1672.2,1029.3 1675.1,1030.0 1678.0,1030.8 1680.8,1031.7 1683.6,1032.8 1686.4,1034.0 1689.1,1035.2 1691.8,1036.5 1694.5,1037.9 1697.1,1039.3 1699.8,1040.7 1702.4,1042.1 1705.1,1043.4 1707.9,1044.6 1710.7,1045.6 1713.6,1046.4 1716.5,1047.2 1719.4,1047.7 1722.4,1048.0 1725.4,1048.0 1728.4,1047.9 1731.4,1047.7 1734.4,1047.6 1737.3,1047.6 1740.3,1047.7 1743.3,1048.0 1746.3,1048.3 1749.3,1048.5 1752.3,1048.7 1755.3,1048.6 1758.3,1048.5 1761.3,1048.2 1764.2,1047.8 1767.1,1047.1 1770.0,1046.4 1772.9,1045.6 1775.8,1044.7 1778.7,1043.8 1781.5,1042.9 1784.4,1042.1 1787.3,1041.1 1790.1,1040.1 1792.9,1039.0 1795.6,1037.8 1798.3,1036.5 1800.9,1035.1 1803.5,1033.6 1806.0,1031.9 1808.4,1030.2 1810.7,1028.3 1813.0,1026.3 1815.2,1024.2 1817.4,1022.2 1819.6,1020.2 1821.9,1018.2 1824.2,1016.4 1826.6,1014.5 1829.1,1012.8 1831.6,1011.2 1834.2,1009.7 1836.9,1008.4 1839.7,1007.3 1842.5,1006.5 1845.4,1005.8 1848.4,1005.2 1851.3,1004.9 1854.3,1004.7 1857.3,1004.7 1860.3,1005.0 1863.2,1005.5 1866.1,1006.2 1869.0,1007.1 1871.7,1008.3 1874.4,1009.6 1877.0,1011.2 1879.5,1012.8 1881.9,1014.5 1884.5,1016.1 1887.2,1017.4 1889.9,1018.4 1892.8,1019.2 1895.8,1019.7 1898.7,1019.9 1901.7,1019.6 1904.5,1018.9 1907.3,1017.9 1910.0,1016.6 1912.7,1015.2 1915.3,1013.8 1918.0,1012.4 1920.7,1011.2 1923.5,1010.1 1926.3,1009.1 1929.2,1008.1 1932.0,1007.2 1934.9,1006.3 1937.8,1005.4 1940.6,1004.6 1943.5,1003.7 1946.4,1002.9 1949.3,1002.1 1952.2,1001.4 1955.1,1000.6 1958.0,999.9 1960.9,999.1 1963.8,998.4 1966.7,997.6 1969.6,996.9 1972.6,996.2 1975.5,995.6 1978.4,995.1 1981.4,994.7 1984.4,994.4 1987.4,994.1 1990.4,994.0 1993.4,993.9 1996.4,993.9 1999.4,993.9 2002.4,993.9 2005.4,994.1 2008.4,994.3 2011.4,994.5 2014.3,994.6 2017.3,994.6 2020.3,994.5 2023.3,994.2 2026.3,993.9 2029.3,993.4 2032.2,992.8 2035.1,992.2 2038.0,991.4 2040.8,990.4 2043.6,989.3 2046.4,988.2 2049.1,987.0 2051.9,985.7 2054.6,984.5 2057.3,983.2 2060.1,982.0 2062.8,980.8 2065.6,979.6 2068.3,978.4 2071.1,977.2 2073.8,976.1 2076.6,975.0 2079.5,973.9 2082.3,973.0 2085.1,972.1 2088.0,971.2 2090.9,970.6 2093.9,970.0 2096.9,969.6 2099.8,969.3 2102.8,969.1 2105.8,969.1 2108.8,969.2 2111.8,969.5 2114.8,969.8 2117.8,970.1 2120.8,970.4 2123.7,970.7 2126.7,970.9 2129.7,971.1 2132.7,971.2 2135.7,971.3 2138.7,971.4 2141.7,971.4 2144.7,971.3 2147.7,971.1 2150.7,971.0 2153.7,971.0 2156.7,971.2 2159.6,971.7 2162.5,972.3 2165.5,973.0 2168.4,973.6 2171.4,974.1 2174.3,974.5 2177.3,974.7 2180.3,974.6 2183.3,974.3 2186.2,973.7 2189.0,972.8 2191.8,971.6 2194.4,970.3 2197.0,968.7 2199.5,967.0 2201.9,965.3 2204.3,963.4 2206.6,961.6 2208.9,959.6 2211.2,957.7 2213.5,955.8 2215.8,953.8 2218.1,951.9 2220.4,950.0 2222.8,948.2 2225.1,946.3 2227.4,944.4 2229.4,942.2 2231.3,939.9 2233.1,937.5 2234.9,935.1 2236.8,932.8 2238.8,930.5 2241.0,928.5 2243.3,926.6 2245.8,925.0 2248.4,923.6 2251.2,922.4 2253.9,921.2 2256.6,919.9 2259.3,918.5 2261.9,917.0 2263.2,916.3 2263.2,916.2 2279.5,899.2 2286.8,894.7 2294.2,890.6 2302.4,882.1 2309.8,872.2 2316.7,869.8 2324.1,873.9 2331.9,879.6 2339.2,889.0 2346.2,890.6 2354.0,880.4 2361.3,870.6 2365.4,856.7 2369.1,843.6 2372.8,830.5 2376.5,819.0 2380.6,807.6 2385.9,800.2 2391.6,792.0 2397.6,782.2 2400.6,801.0 2404.9,821.5"/>
<path stroke="#8DA0CB" d="M208.2,469.1L208.9,472.0 209.5,474.9 210.2,477.9 210.9,480.8 211.6,483.7 212.2,486.6 212.9,489.6 213.6,492.5 214.2,495.4 214.9,498.3 215.6,501.3 216.2,504.2 216.9,507.1 217.6,510.0 218.2,513.0 218.9,515.9 219.6,518.8 220.2,521.7 220.9,524.7 221.6,527.6 222.3,530.5 223.0,533.4 223.7,536.3 224.4,539.3 225.1,542.2 225.8,545.1 226.5,548.0 227.3,550.9 228.0,553.8 228.8,556.7 229.5,559.6 230.3,562.5 231.0,565.4 231.8,568.3 232.6,571.2 233.3,574.1 234.1,577.0 234.9,579.9 235.7,582.8 236.5,585.7 237.3,588.6 238.1,591.5 238.9,594.4 239.7,597.3 240.5,600.1 241.4,603.0 242.2,605.9 243.1,608.8 243.9,611.7 244.8,614.5 245.6,617.4 246.5,620.3 247.4,623.1 248.3,626.0 249.1,628.9 250.0,631.7 250.9,634.6 251.8,637.5 252.7,640.3 253.6,643.2 254.5,646.1 255.3,648.9 256.2,651.8 257.1,654.7 258.0,657.5 259.0,660.4 259.9,663.2 260.8,666.1 261.7,669.0 262.6,671.8 263.6,674.7 264.5,677.5 265.4,680.4 266.3,683.2 267.3,686.1 268.2,688.9 269.1,691.8 270.0,694.7 270.9,697.5 271.8,700.4 272.7,703.2 273.6,706.1 274.4,709.0 275.3,711.9 276.2,714.7 277.0,717.6 277.9,720.5 278.7,723.4 279.6,726.2 280.4,729.1 281.3,732.0 282.1,734.9 283.0,737.7 283.8,740.6 284.6,743.5 285.5,746.4 286.3,749.3 287.1,752.2 288.0,755.0 288.8,757.9 289.6,760.8 290.4,763.7 291.2,766.6 292.1,769.5 292.9,772.4 293.7,775.2 294.5,778.1 295.3,781.0 296.1,783.9 296.9,786.8 297.7,789.7 298.5,792.6 299.3,795.5 300.1,798.4 300.9,801.3 301.7,804.2 302.4,807.1 303.2,810.0 304.0,812.9 304.8,815.7 305.6,818.6 306.3,821.5 307.1,824.4 307.9,827.3 308.7,830.2 309.4,833.1 310.2,836.0 311.0,838.9 311.7,841.8 312.5,844.7 313.2,847.6 314.0,850.6 314.7,853.5 315.5,856.4 316.2,859.3 317.0,862.2 317.7,865.1 318.5,868.0 319.2,870.9 320.0,873.8 320.7,876.7 321.5,879.6 322.2,882.5 323.0,885.4 323.7,888.3 324.5,891.2 325.3,894.1 326.1,897.0 326.9,899.9 327.7,902.8 328.5,905.7 329.3,908.6 330.1,911.5 330.9,914.3 331.7,917.2 332.5,920.1 333.4,923.0 334.2,925.9 335.0,928.8 335.9,931.6 336.7,934.5 337.6,937.4 338.4,940.3 339.3,943.2 340.1,946.0 341.0,948.9 341.9,951.8 342.8,954.6 343.6,957.5 344.5,960.4 345.4,963.2 346.3,966.1 347.3,968.9 348.2,971.8 349.1,974.7 350.0,977.5 350.9,980.4 351.9,983.2 352.8,986.1 353.7,988.9 354.7,991.8 355.6,994.6 356.5,997.5 357.5,1000.3 358.4,1003.2 359.4,1006.0 360.3,1008.9 361.2,1011.7 362.2,1014.6 363.1,1017.4 364.0,1020.3 365.0,1023.1 365.9,1026.0 366.8,1028.8 367.8,1031.7 368.7,1034.5 369.7,1037.4 370.6,1040.2 371.6,1043.1 372.5,1045.9 373.5,1048.8 374.4,1051.6 375.4,1054.4 376.4,1057.3 377.4,1060.1 378.4,1062.9 379.4,1065.8 380.4,1068.6 381.4,1071.4 382.4,1074.2 383.5,1077.0 384.5,1079.9 385.5,1082.7 386.6,1085.5 387.6,1088.3 388.7,1091.1 389.7,1093.9 390.8,1096.7 391.9,1099.5 392.9,1102.3 393.9,1105.1 395.0,1108.0 396.0,1110.8 397.0,1113.6 398.1,1116.4 399.1,1119.2 400.1,1122.1 401.0,1124.9 402.0,1127.7 403.0,1130.6 403.9,1133.4 404.9,1136.3 405.9,1139.1 406.9,1141.9 407.8,1144.8 408.8,1147.6 409.8,1150.4 410.8,1153.3 411.9,1156.1 412.9,1158.9 414.0,1161.7 415.1,1164.5 416.3,1167.2 417.5,1170.0 418.7,1172.7 420.0,1175.4 421.3,1178.1 422.7,1180.8 424.0,1183.5 425.3,1186.2 426.6,1188.9 427.7,1191.7 428.9,1194.4 430.0,1197.2 431.0,1200.0 432.1,1202.8 433.1,1205.7 434.2,1208.5 435.2,1211.3 436.3,1214.1 437.3,1216.9 438.4,1219.7 439.5,1222.5 440.6,1225.3 441.7,1228.1 442.9,1230.8 444.0,1233.6 445.1,1236.4 446.3,1239.2 447.5,1241.9 448.6,1244.7 449.8,1247.5 450.9,1250.2 452.1,1253.0 453.2,1255.8 454.4,1258.6 455.5,1261.3 456.6,1264.1 457.8,1266.9 458.9,1269.7 460.0,1272.4 461.2,1275.2 462.3,1278.0 463.4,1280.8 464.5,1283.6 465.7,1286.3 466.8,1289.1 468.0,1291.9 469.1,1294.6 470.3,1297.4 471.5,1300.2 472.7,1302.9 473.9,1305.7 475.1,1308.4 476.2,1311.2 477.5,1313.9 478.7,1316.7 479.9,1319.4 481.1,1322.2 482.4,1324.9 483.6,1327.6 484.9,1330.3 486.1,1333.0 487.4,1335.7 488.8,1338.4 490.1,1341.1 491.5,1343.8 492.9,1346.5 494.3,1349.1 495.7,1351.7 497.1,1354.4 498.6,1357.0 500.1,1359.6 501.6,1362.2 503.2,1364.7 504.8,1367.3 506.5,1369.8 508.2,1372.2 509.9,1374.7 511.7,1377.1 513.6,1379.4 515.5,1381.7 517.5,1383.9 519.6,1386.1 521.8,1388.2 524.0,1390.1 526.4,1391.9 528.9,1393.6 531.5,1395.1 534.2,1396.4 537.0,1397.3 539.9,1397.9 542.8,1398.1 545.8,1397.8 548.7,1397.2 551.5,1396.3 554.3,1395.1 557.0,1393.8 559.6,1392.4 562.2,1390.8 564.6,1389.2 567.1,1387.4 569.4,1385.5 571.7,1383.6 574.0,1381.7 576.2,1379.7 578.5,1377.6 580.6,1375.6 582.7,1373.4 584.8,1371.3 586.9,1369.1 588.9,1366.9 590.9,1364.7 593.0,1362.5 595.0,1360.3 597.0,1358.0 599.0,1355.8 601.0,1353.6 603.1,1351.4 605.0,1349.1 607.0,1346.9 609.0,1344.6 610.9,1342.3 612.8,1340.0 614.7,1337.7 616.6,1335.3 618.4,1333.0 620.3,1330.6 622.1,1328.2 623.8,1325.8 625.6,1323.3 627.4,1320.9 629.1,1318.5 630.8,1316.0 632.5,1313.6 634.2,1311.1 635.9,1308.6 637.6,1306.1 639.3,1303.6 640.9,1301.1 642.5,1298.6 644.2,1296.1 645.8,1293.5 647.4,1291.0 649.0,1288.4 650.5,1285.9 652.1,1283.4 653.7,1280.8 655.3,1278.3 656.9,1275.7 658.4,1273.1 660.0,1270.6 661.6,1268.0 663.1,1265.5 664.7,1262.9 666.3,1260.4 667.9,1257.8 669.5,1255.3 671.1,1252.8 672.7,1250.2 674.3,1247.7 676.0,1245.2 677.6,1242.7 679.2,1240.1 680.8,1237.6 682.5,1235.1 684.1,1232.6 685.8,1230.1 687.4,1227.6 689.1,1225.1 690.8,1222.6 692.4,1220.1 694.1,1217.6 695.9,1215.2 697.6,1212.8 699.4,1210.4 701.2,1208.0 703.1,1205.6 705.0,1203.3 706.9,1201.0 708.9,1198.7 710.8,1196.4 712.7,1194.1 714.7,1191.8 716.6,1189.6 718.6,1187.3 720.6,1185.0 722.5,1182.8 724.5,1180.5 726.5,1178.3 728.5,1176.0 730.5,1173.8 732.5,1171.6 734.5,1169.4 736.5,1167.1 738.5,1164.8 740.4,1162.5 742.3,1160.2 744.1,1157.8 745.9,1155.4 747.7,1153.0 749.5,1150.6 751.3,1148.2 753.1,1145.8 754.9,1143.4 756.7,1141.0 758.5,1138.6 760.2,1136.2 762.0,1133.8 763.8,1131.3 765.6,1128.9 767.4,1126.5 769.2,1124.1 771.0,1121.7 772.8,1119.4 774.7,1117.0 776.6,1114.7 778.5,1112.3 780.4,1110.0 782.3,1107.7 784.2,1105.4 786.1,1103.1 788.1,1100.8 790.0,1098.6 792.0,1096.3 794.0,1094.0 796.0,1091.8 798.0,1089.6 800.0,1087.3 802.0,1085.1 804.0,1082.9 806.1,1080.7 808.1,1078.5 810.2,1076.3 812.3,1074.2 814.4,1072.1 816.6,1070.0 818.8,1068.0 821.0,1065.9 823.2,1063.9 825.4,1061.9 827.6,1059.9 829.9,1057.9 832.1,1055.9 834.4,1054.0 836.7,1052.0 839.0,1050.1 841.3,1048.1 843.6,1046.2 845.9,1044.3 848.2,1042.4 850.5,1040.4 852.7,1038.4 854.9,1036.4 857.1,1034.3 859.3,1032.3 861.5,1030.3 863.7,1028.2 866.0,1026.2 868.2,1024.2 870.4,1022.2 872.7,1020.2 874.9,1018.2 877.1,1016.2 879.3,1014.2 881.6,1012.2 883.8,1010.2 886.0,1008.2 888.3,1006.2 890.6,1004.2 892.8,1002.3 895.1,1000.4 897.5,998.5 899.8,996.6 902.2,994.9 904.7,993.1 907.2,991.5 909.8,989.9 912.4,988.5 915.1,987.2 917.9,986.1 920.7,985.1 923.6,984.2 926.4,983.4 929.3,982.6 932.2,981.8 935.1,981.0 938.0,980.2 940.9,979.4 943.8,978.5 946.6,977.6 949.5,976.8 952.4,975.9 955.3,975.1 958.2,974.4 961.1,973.7 964.0,973.1 967.0,972.6 970.0,972.3 973.0,972.1 975.9,972.2 978.9,972.4 981.9,972.9 984.8,973.5 987.7,974.3 990.6,975.1 993.4,976.1 996.3,977.0 999.1,978.0 1001.9,979.0 1004.8,980.0 1007.6,981.0 1010.5,981.9 1013.4,982.7 1016.3,983.4 1019.2,984.1 1022.1,984.8 1025.0,985.6 1027.8,986.5 1030.7,987.4 1033.5,988.4 1036.4,989.4 1039.2,990.5 1041.9,991.7 1044.7,992.9 1047.4,994.1 1050.1,995.4 1052.8,996.6 1055.5,997.9 1058.2,999.3 1060.9,1000.6 1063.6,1002.0 1066.2,1003.5 1068.8,1004.9 1071.4,1006.4 1074.0,1007.9 1076.6,1009.5 1079.1,1011.0 1081.7,1012.6 1084.2,1014.2 1086.8,1015.8 1089.3,1017.4 1091.9,1018.9 1094.6,1020.3 1097.3,1021.6 1100.0,1022.8 1102.7,1024.0 1105.5,1025.1 1108.4,1026.1 1111.2,1027.0 1114.1,1027.9 1116.9,1028.9 1119.7,1029.9 1122.5,1031.0 1125.3,1032.2 1128.0,1033.5 1130.7,1034.7 1133.4,1036.0 1136.2,1037.2 1138.9,1038.5 1141.7,1039.6 1144.4,1040.7 1147.3,1041.7 1150.1,1042.6 1153.0,1043.4 1156.0,1044.0 1158.9,1044.6 1161.9,1045.1 1164.8,1045.5 1167.8,1045.8 1170.8,1046.0 1173.8,1046.0 1176.8,1046.0 1179.8,1045.8 1182.8,1045.5 1185.7,1045.1 1188.7,1044.5 1191.6,1043.9 1194.5,1043.1 1197.3,1042.1 1200.1,1041.0 1202.8,1039.6 1205.4,1038.2 1207.9,1036.6 1210.5,1035.0 1213.0,1033.4 1215.6,1031.9 1218.2,1030.3 1220.7,1028.8 1223.4,1027.4 1226.1,1026.0 1228.8,1024.8 1231.6,1023.8 1234.5,1022.9 1237.4,1022.2 1240.3,1021.7 1243.3,1021.4 1246.3,1021.4 1249.3,1021.5 1252.3,1021.8 1255.2,1022.1 1258.2,1022.4 1261.2,1022.9 1264.1,1023.3 1267.1,1023.7 1270.1,1024.0 1273.1,1024.0 1276.1,1023.8 1279.1,1023.6 1282.0,1023.2 1285.0,1022.8 1288.0,1022.5 1291.0,1022.1 1294.0,1021.8 1296.9,1021.4 1299.9,1021.1 1302.9,1020.7 1305.9,1020.3 1308.8,1019.9 1311.8,1019.5 1314.8,1019.2 1317.8,1018.9 1320.8,1018.8 1323.8,1018.8 1326.7,1019.0 1329.7,1019.3 1332.7,1019.6 1335.7,1020.0 1338.7,1020.3 1341.6,1020.7 1344.6,1021.1 1347.6,1021.6 1350.5,1022.1 1353.5,1022.5 1356.5,1023.0 1359.4,1023.6 1362.4,1024.1 1365.3,1024.7 1368.2,1025.4 1371.1,1026.1 1374.0,1026.8 1376.9,1027.7 1379.8,1028.6 1382.6,1029.6 1385.4,1030.7 1388.2,1031.8 1390.9,1033.0 1393.7,1034.2 1396.4,1035.5 1399.1,1036.8 1401.8,1038.1 1404.6,1039.2 1407.4,1040.2 1410.3,1040.9 1413.2,1041.4 1416.2,1041.7 1419.2,1041.9 1422.2,1041.8 1425.2,1041.7 1428.2,1041.5 1431.2,1041.5 1434.2,1041.7 1437.1,1042.0 1440.1,1042.4 1443.0,1043.0 1445.9,1043.8 1448.8,1044.8 1451.5,1045.9 1454.2,1047.2 1456.9,1048.6 1459.4,1050.3 1461.7,1052.1 1464.0,1054.0 1466.3,1056.0 1468.5,1058.0 1470.7,1060.0 1473.0,1062.0 1475.3,1063.9 1477.6,1065.8 1479.9,1067.7 1482.3,1069.6 1484.7,1071.3 1487.2,1072.9 1489.8,1074.4 1492.5,1075.8 1495.2,1077.0 1498.0,1078.2 1500.8,1079.3 1503.6,1080.2 1506.5,1081.2 1509.3,1082.1 1512.1,1083.3 1514.7,1084.6 1517.3,1086.1 1519.8,1087.7 1522.3,1089.4 1524.7,1091.2 1527.2,1093.0 1529.5,1094.8 1531.9,1096.7 1534.2,1098.5 1536.5,1100.4 1538.9,1102.3 1541.2,1104.2 1543.6,1106.0 1546.0,1107.8 1548.4,1109.6 1550.8,1111.5 1553.1,1113.4 1555.3,1115.4 1557.4,1117.5 1559.5,1119.7 1561.5,1121.9 1563.4,1124.2 1565.4,1126.5 1567.3,1128.8 1569.3,1131.0 1571.3,1133.3 1573.3,1135.5 1575.4,1137.6 1577.5,1139.8 1579.6,1141.9 1581.8,1143.9 1584.2,1145.8 1586.6,1147.5 1589.2,1149.0 1591.8,1150.4 1594.5,1151.7 1597.3,1152.9 1600.1,1153.9 1603.0,1154.9 1605.8,1155.7 1608.8,1156.4 1611.7,1156.9 1614.7,1157.4 1617.6,1157.7 1620.6,1157.8 1623.6,1158.0 1626.6,1158.2 1629.6,1158.5 1632.5,1159.1 1635.4,1159.8 1638.3,1160.6 1641.2,1161.3 1644.1,1162.0 1647.1,1162.5 1650.1,1162.9 1653.0,1163.2 1656.0,1163.2 1659.0,1162.9 1661.9,1162.4 1664.8,1161.7 1667.7,1160.7 1670.4,1159.6 1673.1,1158.2 1675.7,1156.8 1678.3,1155.2 1680.7,1153.5 1683.2,1151.7 1685.5,1149.9 1687.9,1148.0 1690.3,1146.2 1692.7,1144.5 1695.3,1142.9 1697.9,1141.5 1700.6,1140.1 1703.3,1138.9 1706.1,1137.7 1708.9,1136.7 1711.7,1135.8 1714.6,1135.0 1717.5,1134.1 1720.3,1133.2 1723.2,1132.3 1726.0,1131.2 1728.8,1130.2 1731.6,1129.0 1734.2,1127.6 1736.9,1126.2 1739.5,1124.8 1742.1,1123.3 1744.8,1121.9 1747.4,1120.5 1750.1,1119.1 1752.7,1117.7 1755.4,1116.4 1758.2,1115.2 1761.0,1114.2 1763.9,1113.3 1766.8,1112.7 1769.7,1112.4 1772.7,1112.5 1775.6,1112.8 1778.6,1113.4 1781.5,1114.0 1784.5,1114.6 1787.4,1115.2 1790.3,1115.8 1793.3,1116.3 1796.3,1116.6 1799.2,1116.8 1802.2,1116.7 1805.2,1116.4 1808.1,1115.7 1810.9,1114.8 1813.7,1113.7 1816.4,1112.4 1819.1,1111.1 1821.7,1109.7 1824.4,1108.2 1827.0,1106.8 1829.7,1105.5 1832.4,1104.3 1835.2,1103.2 1838.1,1102.2 1840.9,1101.3 1843.8,1100.4 1846.7,1099.7 1849.6,1099.0 1852.5,1098.3 1855.5,1097.6 1858.4,1096.9 1861.3,1096.1 1864.1,1095.3 1867.0,1094.4 1869.8,1093.3 1872.5,1092.0 1875.1,1090.6 1877.7,1089.0 1880.2,1087.4 1882.7,1085.8 1885.2,1084.2 1887.7,1082.5 1890.2,1080.8 1892.7,1079.1 1895.2,1077.5 1897.8,1076.0 1900.5,1074.6 1903.2,1073.4 1906.0,1072.4 1908.9,1071.5 1911.8,1070.9 1914.7,1070.4 1917.7,1070.1 1920.7,1069.7 1923.7,1069.3 1926.6,1068.6 1929.5,1067.9 1932.4,1067.1 1935.2,1066.2 1938.1,1065.4 1941.0,1064.6 1943.9,1063.9 1946.8,1063.1 1949.7,1062.2 1952.5,1061.3 1955.3,1060.2 1958.1,1059.0 1960.8,1057.8 1963.5,1056.5 1966.2,1055.2 1968.9,1053.9 1971.6,1052.6 1974.4,1051.3 1977.1,1050.1 1979.8,1048.8 1982.5,1047.6 1985.3,1046.4 1988.1,1045.2 1990.8,1044.1 1993.6,1043.0 1996.5,1042.1 1999.4,1041.4 2002.3,1041.1 2005.3,1041.1 2008.2,1041.4 2011.2,1042.0 2014.0,1042.9 2016.8,1044.1 2019.4,1045.5 2021.9,1047.0 2024.4,1048.8 2026.7,1050.7 2029.0,1052.6 2031.2,1054.6 2033.4,1056.7 2035.6,1058.7 2037.7,1060.9 2039.8,1063.0 2041.9,1065.1 2044.1,1067.2 2046.2,1069.3 2048.5,1071.3 2050.7,1073.3 2053.0,1075.2 2055.4,1077.0 2057.9,1078.6 2060.5,1080.2 2063.1,1081.7 2065.7,1083.2 2068.3,1084.7 2070.9,1086.2 2073.5,1087.7 2076.0,1089.2 2078.6,1090.8 2081.1,1092.4 2083.6,1094.1 2086.0,1095.8 2088.4,1097.6 2090.8,1099.5 2093.1,1101.4 2095.4,1103.4 2097.6,1105.4 2099.9,1107.3 2102.2,1109.2 2104.6,1111.0 2107.2,1112.5 2109.8,1113.9 2112.6,1115.0 2115.4,1116.0 2118.3,1116.9 2121.2,1117.8 2124.0,1118.5 2127.0,1119.3 2129.9,1119.9 2132.8,1120.5 2135.8,1121.0 2138.8,1121.4 2141.7,1121.8 2144.7,1122.2 2147.7,1122.6 2150.6,1123.0 2153.6,1123.5 2156.5,1124.1 2159.5,1124.8 2162.4,1125.5 2165.3,1126.3 2168.1,1127.2 2171.0,1128.2 2173.8,1129.1 2176.7,1130.1 2179.5,1131.0 2182.4,1131.9 2185.2,1132.8 2188.1,1133.6 2191.0,1134.3 2193.9,1135.0 2196.9,1135.6 2199.8,1136.1 2202.8,1136.4 2205.8,1136.7 2208.8,1136.9 2211.8,1137.1 2214.8,1137.5 2217.7,1138.0 2220.7,1138.6 2223.6,1139.2 2226.5,1139.9 2229.3,1140.9 2232.0,1142.2 2234.6,1143.7 2237.2,1145.0 2240.0,1146.1 2242.8,1146.6 2245.6,1146.4 2248.3,1145.5 2250.8,1143.9 2253.1,1142.0 2255.4,1140.1 2257.6,1138.1 2258.0,1137.8 2258.2,1137.6 2265.6,1131.5 2272.5,1130.7 2279.9,1136.0 2287.2,1146.2 2294.6,1154.8 2302.4,1156.9 2309.8,1156.4 2317.1,1159.3 2324.5,1161.8 2331.4,1162.2 2338.4,1163.8 2345.8,1166.7 2353.1,1168.3 2360.5,1172.4 2367.9,1176.5 2375.6,1179.0 2383.0,1177.3 2390.0,1174.5 2396.9,1165.5 2400.8,1153.2 2405.1,1143.1"/>
<path stroke="#FC8D62" d="M208.2,667.5L208.7,670.4 209.2,673.4 209.8,676.3 210.3,679.3 210.8,682.2 211.3,685.2 211.9,688.1 212.4,691.1 212.9,694.0 213.4,697.0 213.9,700.0 214.5,702.9 215.0,705.9 215.5,708.8 216.0,711.8 216.6,714.7 217.1,717.7 217.6,720.6 218.1,723.6 218.7,726.5 219.2,729.5 219.7,732.4 220.3,735.4 220.8,738.3 221.3,741.3 221.9,744.2 222.4,747.2 223.0,750.1 223.6,753.1 224.1,756.0 224.7,759.0 225.3,761.9 225.8,764.9 226.4,767.8 227.0,770.8 227.6,773.7 228.2,776.6 228.7,779.6 229.3,782.5 229.9,785.5 230.5,788.4 231.1,791.4 231.7,794.3 232.3,797.2 232.9,800.2 233.6,803.1 234.2,806.0 234.8,809.0 235.4,811.9 236.1,814.8 236.7,817.8 237.3,820.7 238.0,823.6 238.6,826.6 239.3,829.5 239.9,832.4 240.6,835.3 241.3,838.3 242.0,841.2 242.6,844.1 243.3,847.0 244.0,849.9 244.7,852.9 245.4,855.8 246.2,858.7 246.9,861.6 247.6,864.5 248.3,867.4 249.1,870.3 249.8,873.2 250.5,876.1 251.3,879.0 252.1,881.9 252.9,884.8 253.7,887.7 254.5,890.6 255.3,893.5 256.2,896.4 257.1,899.2 258.0,902.1 259.0,904.9 260.0,907.8 261.0,910.6 262.1,913.4 263.3,916.1 264.4,918.9 265.7,921.6 266.9,924.3 268.2,927.0 269.6,929.7 271.0,932.4 272.4,935.1 273.7,937.7 275.1,940.4 276.5,943.0 277.9,945.7 279.4,948.3 280.8,950.9 282.3,953.5 283.8,956.1 285.4,958.7 287.0,961.2 288.6,963.8 290.2,966.3 291.9,968.8 293.6,971.2 295.4,973.6 297.3,976.0 299.1,978.3 301.1,980.6 303.1,982.8 305.1,985.0 307.2,987.2 309.4,989.3 311.6,991.2 314.0,993.1 316.4,994.9 318.8,996.6 321.4,998.2 323.9,999.9 326.4,1001.5 328.8,1003.2 331.3,1005.0 333.7,1006.7 336.2,1008.5 338.6,1010.2 341.0,1012.0 343.5,1013.7 345.9,1015.4 348.4,1017.2 350.8,1018.9 353.3,1020.6 355.7,1022.3 358.2,1024.0 360.8,1025.6 363.4,1027.1 366.1,1028.4 368.8,1029.7 371.6,1030.8 374.4,1031.8 377.2,1032.7 380.2,1033.4 383.1,1034.0 386.0,1034.4 389.0,1034.6 392.0,1034.5 395.0,1034.2 397.9,1033.6 400.8,1032.8 403.6,1031.7 406.2,1030.4 408.8,1028.9 411.3,1027.2 413.7,1025.4 416.1,1023.6 418.4,1021.7 420.8,1019.8 423.1,1017.9 425.3,1016.0 427.6,1014.0 429.8,1011.9 432.0,1009.9 434.2,1007.8 436.4,1005.8 438.6,1003.7 440.8,1001.7 443.0,999.7 445.2,997.7 447.5,995.7 449.8,993.8 452.1,991.8 454.4,989.9 456.7,988.0 459.0,986.1 461.3,984.2 463.6,982.3 465.9,980.4 468.2,978.4 470.4,976.4 472.6,974.3 474.8,972.3 476.9,970.2 479.0,968.1 481.2,965.9 483.3,963.8 485.3,961.6 487.4,959.4 489.4,957.2 491.5,955.0 493.5,952.8 495.5,950.6 497.5,948.4 499.5,946.1 501.5,943.9 503.5,941.6 505.4,939.3 507.4,937.0 509.3,934.7 511.2,932.4 513.1,930.1 515.0,927.8 516.9,925.5 518.8,923.1 520.7,920.8 522.6,918.5 524.5,916.2 526.4,913.9 528.4,911.6 530.3,909.3 532.3,907.1 534.3,904.8 536.3,902.6 538.2,900.3 540.2,898.1 542.2,895.8 544.2,893.6 546.2,891.3 548.2,889.1 550.1,886.8 552.1,884.5 554.1,882.3 556.0,880.0 558.0,877.7 559.9,875.4 561.8,873.1 563.7,870.7 565.6,868.4 567.5,866.1 569.5,863.9 571.5,861.7 573.6,859.6 575.9,857.6 578.2,855.7 580.7,854.0 583.2,852.4 585.8,850.8 588.4,849.4 591.0,848.0 593.7,846.6 596.4,845.3 599.1,843.9 601.8,842.6 604.5,841.4 607.2,840.2 610.0,839.1 612.9,838.1 615.8,837.3 618.7,836.7 621.6,836.2 624.6,835.8 627.6,835.5 630.6,835.3 633.6,835.0 636.6,834.7 639.5,834.3 642.5,833.9 645.5,833.5 648.4,833.1 651.4,832.6 654.4,832.2 657.3,831.7 660.3,831.2 663.3,830.7 666.2,830.2 669.2,829.8 672.1,829.3 675.1,828.8 678.1,828.3 681.0,827.7 683.9,827.1 686.8,826.3 689.7,825.5 692.6,824.6 695.4,823.6 698.2,822.4 700.9,821.2 703.6,820.0 706.3,818.7 709.0,817.4 711.7,816.1 714.4,814.8 717.2,813.5 719.9,812.2 722.6,810.9 725.3,809.6 728.0,808.3 730.7,807.0 733.4,805.7 736.1,804.5 738.9,803.3 741.6,802.1 744.5,801.1 747.3,800.2 750.2,799.3 753.1,798.5 756.0,797.8 758.9,797.2 761.9,796.7 764.8,796.3 767.8,796.2 770.8,796.1 773.8,796.1 776.8,796.1 779.8,796.0 782.8,795.7 785.8,795.4 788.8,795.0 791.7,794.6 794.7,794.3 797.7,794.0 800.7,793.8 803.7,793.8 806.7,793.9 809.7,794.0 812.7,794.2 815.6,794.6 818.6,795.1 821.5,795.8 824.4,796.6 827.3,797.4 830.2,798.2 833.0,799.0 836.0,799.8 838.9,800.5 841.8,801.2 844.7,802.0 847.6,802.8 850.4,803.7 853.3,804.6 856.1,805.6 858.9,806.6 861.8,807.6 864.6,808.6 867.4,809.5 870.3,810.3 873.2,811.1 876.2,811.7 879.1,812.4 882.0,812.9 885.0,813.3 888.0,813.6 891.0,813.9 894.0,814.1 897.0,814.2 900.0,814.4 903.0,814.6 905.9,815.0 908.9,815.5 911.8,816.0 914.8,816.5 917.7,817.1 920.7,817.5 923.7,818.0 926.6,818.5 929.6,818.9 932.6,819.4 935.5,819.8 938.5,820.2 941.5,820.6 944.5,820.9 947.4,821.2 950.4,821.4 953.4,821.6 956.4,821.6 959.4,821.5 962.4,821.4 965.4,821.1 968.4,820.7 971.3,820.2 974.3,819.6 977.2,818.8 980.0,818.0 982.9,817.2 985.8,816.4 988.7,815.6 991.6,815.0 994.6,814.5 997.6,814.0 1000.5,813.7 1003.5,813.6 1006.5,813.5 1009.5,813.5 1012.5,813.7 1015.5,813.9 1018.5,814.3 1021.5,814.7 1024.4,815.3 1027.3,816.0 1030.2,816.7 1033.1,817.5 1036.0,818.3 1038.9,819.2 1041.8,819.9 1044.7,820.5 1047.7,821.0 1050.6,821.4 1053.6,821.9 1056.5,822.5 1059.5,823.1 1062.4,823.8 1065.3,824.5 1068.2,825.2 1071.2,825.8 1074.1,826.4 1077.1,826.9 1080.0,827.3 1083.0,827.7 1086.0,828.0 1089.0,828.3 1092.0,828.5 1095.0,828.6 1098.0,828.7 1101.0,828.8 1104.0,828.7 1107.0,828.6 1110.0,828.4 1112.9,828.2 1115.9,827.9 1118.9,827.6 1121.9,827.3 1124.9,827.0 1127.9,826.7 1130.8,826.5 1133.8,826.4 1136.8,826.4 1139.8,826.6 1142.8,827.0 1145.7,827.7 1148.6,828.5 1151.4,829.5 1154.1,830.7 1156.8,832.0 1159.5,833.4 1162.1,834.9 1164.7,836.4 1167.3,837.9 1169.9,839.4 1172.5,840.9 1175.1,842.4 1177.7,843.8 1180.4,845.1 1183.1,846.5 1185.8,847.8 1188.5,849.1 1191.2,850.5 1193.8,851.9 1196.5,853.3 1199.1,854.7 1201.8,856.1 1204.4,857.5 1207.1,858.9 1209.7,860.2 1212.4,861.6 1215.2,862.8 1217.9,864.1 1220.5,865.5 1223.1,867.0 1225.7,868.5 1228.2,870.2 1230.6,872.0 1233.0,873.8 1235.3,875.6 1237.7,877.5 1240.1,879.3 1242.5,881.1 1244.9,882.8 1247.4,884.6 1249.8,886.3 1252.3,888.0 1254.8,889.6 1257.4,891.2 1260.0,892.7 1262.6,894.2 1265.3,895.5 1268.0,896.7 1270.9,897.6 1273.8,898.4 1276.7,898.9 1279.7,899.4 1282.6,899.7 1285.6,900.0 1288.6,900.3 1291.6,900.4 1294.6,900.5 1297.6,900.6 1300.6,900.8 1303.6,901.1 1306.5,901.4 1309.5,901.9 1312.5,902.4 1315.4,903.1 1318.2,904.0 1321.0,905.1 1323.6,906.5 1326.2,908.0 1328.7,909.7 1331.1,911.5 1333.4,913.5 1335.5,915.5 1337.7,917.6 1339.7,919.8 1341.7,922.0 1343.7,924.3 1345.5,926.7 1347.4,929.0 1349.2,931.4 1351.0,933.8 1352.9,936.2 1354.8,938.5 1356.8,940.7 1358.8,942.9 1360.9,945.1 1363.0,947.2 1365.2,949.2 1367.5,951.2 1369.9,953.0 1372.3,954.7 1374.9,956.2 1377.6,957.6 1380.3,958.8 1383.1,959.9 1385.9,960.8 1388.8,961.5 1391.8,962.1 1394.7,962.6 1397.7,963.0 1400.7,963.2 1403.7,963.4 1406.7,963.5 1409.7,963.8 1412.6,964.1 1415.6,964.6 1418.6,965.0 1421.6,965.4 1424.5,965.6 1427.5,965.9 1430.5,966.0 1433.5,966.0 1436.5,966.0 1439.5,965.8 1442.5,965.5 1445.5,965.3 1448.5,965.2 1451.4,965.3 1454.4,965.6 1457.4,966.2 1460.3,966.8 1463.2,967.7 1466.0,968.6 1468.8,969.6 1471.7,970.6 1474.5,971.4 1477.5,972.0 1480.4,972.4 1483.4,972.7 1486.4,973.0 1489.4,973.3 1492.4,973.6 1495.4,973.8 1498.4,974.0 1501.4,974.3 1504.3,974.5 1507.3,974.8 1510.3,975.1 1513.3,975.4 1516.3,975.7 1519.2,976.2 1522.1,976.9 1525.0,977.7 1527.9,978.6 1530.7,979.5 1533.7,980.2 1536.6,980.6 1539.6,980.8 1542.6,980.8 1545.6,980.7 1548.6,980.4 1551.5,980.0 1554.5,979.5 1557.4,979.0 1560.4,978.5 1563.3,978.1 1566.3,978.0 1569.3,978.0 1572.3,978.2 1575.3,978.4 1578.3,978.6 1581.3,978.8 1584.3,978.8 1587.3,978.7 1590.2,978.2 1593.1,977.5 1596.0,976.6 1598.8,975.6 1601.5,974.4 1604.3,973.2 1607.0,972.1 1609.8,971.1 1612.7,970.4 1615.7,970.0 1618.7,969.9 1621.6,970.1 1624.6,970.5 1627.5,971.2 1630.4,972.1 1633.2,973.0 1636.1,973.8 1639.0,974.7 1641.8,975.6 1644.7,976.4 1647.6,977.3 1650.4,978.3 1653.2,979.3 1656.0,980.3 1658.9,981.3 1661.8,982.0 1664.7,982.6 1667.7,982.8 1670.7,982.8 1673.6,982.6 1676.6,982.0 1679.4,981.2 1682.2,980.2 1684.9,978.9 1687.5,977.4 1689.9,975.6 1692.3,973.8 1694.6,971.9 1696.8,969.8 1698.9,967.7 1701.0,965.5 1703.0,963.3 1704.9,961.0 1706.9,958.8 1708.8,956.5 1710.8,954.2 1712.7,951.9 1714.6,949.5 1716.5,947.2 1718.4,944.9 1720.3,942.6 1722.3,940.4 1724.4,938.2 1726.5,936.1 1728.6,934.0 1730.9,932.0 1733.2,930.1 1735.5,928.2 1738.0,926.5 1740.6,925.0 1743.2,923.6 1745.9,922.4 1748.7,921.2 1751.5,920.1 1754.3,919.1 1757.2,918.1 1760.0,917.3 1763.0,916.7 1765.9,916.2 1768.9,916.0 1771.9,915.9 1774.9,916.2 1777.8,916.7 1780.7,917.5 1783.5,918.4 1786.3,919.4 1789.1,920.5 1792.0,921.5 1794.8,922.5 1797.6,923.5 1800.5,924.3 1803.4,924.9 1806.4,925.4 1809.4,925.7 1812.3,925.8 1815.3,925.6 1818.3,925.1 1821.2,924.6 1824.2,924.2 1827.2,923.8 1830.1,923.6 1833.1,923.6 1836.1,923.6 1839.1,923.8 1842.1,924.1 1845.0,924.6 1848.0,925.2 1850.9,925.9 1853.8,926.3 1856.8,926.5 1859.8,926.5 1862.8,926.2 1865.7,925.5 1868.5,924.6 1871.3,923.5 1874.0,922.2 1876.6,920.7 1879.2,919.2 1881.7,917.6 1884.2,915.9 1886.6,914.2 1889.1,912.5 1891.7,910.9 1894.2,909.3 1896.8,907.8 1899.5,906.5 1902.2,905.3 1905.1,904.4 1907.9,903.6 1910.9,903.0 1913.8,902.7 1916.8,902.6 1919.8,902.8 1922.8,903.1 1925.8,903.4 1928.8,903.6 1931.7,903.6 1934.7,903.5 1937.7,903.2 1940.7,903.1 1943.7,903.1 1946.7,903.2 1949.7,903.5 1952.6,904.0 1955.5,904.8 1958.3,905.7 1961.1,906.8 1963.9,907.8 1966.8,908.8 1969.7,909.6 1972.6,910.3 1975.5,910.7 1978.5,910.8 1981.5,910.7 1984.5,910.3 1987.4,909.7 1990.3,908.9 1993.1,907.9 1995.9,906.9 1998.7,905.7 2001.4,904.5 2004.1,903.3 2006.9,902.0 2009.5,900.6 2012.2,899.3 2014.9,898.0 2017.7,896.7 2020.4,895.5 2023.2,894.4 2026.0,893.4 2028.9,892.7 2031.8,892.1 2034.8,891.8 2037.8,891.7 2040.8,891.8 2043.7,892.2 2046.7,892.7 2049.6,893.4 2052.5,894.2 2055.3,895.1 2058.1,896.1 2061.0,897.1 2063.8,898.1 2066.7,899.0 2069.5,899.9 2072.4,900.7 2075.3,901.5 2078.2,902.3 2081.1,903.1 2084.0,903.8 2087.0,904.4 2089.9,905.1 2092.8,905.6 2095.8,906.2 2098.7,906.7 2101.6,907.4 2104.5,908.3 2107.3,909.3 2110.0,910.5 2112.7,911.8 2115.4,913.2 2118.1,914.6 2120.7,916.1 2123.3,917.6 2125.9,919.1 2128.5,920.5 2131.2,921.7 2134.0,922.8 2136.9,923.6 2139.8,924.1 2142.8,924.2 2145.8,924.0 2148.7,923.6 2151.7,923.2 2154.7,922.8 2157.6,922.6 2160.6,922.6 2163.6,922.8 2166.5,923.3 2169.5,924.0 2172.3,924.8 2175.2,925.7 2178.1,926.6 2180.9,927.5 2183.8,928.4 2186.7,929.1 2189.6,929.7 2192.6,930.0 2195.6,930.0 2198.5,929.8 2201.5,929.3 2204.4,928.7 2207.4,928.1 2210.3,927.7 2213.3,927.4 2216.2,927.6 2219.1,928.1 2221.9,929.0 2224.7,930.3 2227.3,931.7 2229.9,933.2 2232.5,934.7 2235.1,936.1 2237.8,937.3 2240.7,938.0 2243.5,938.2 2246.3,937.6 2249.0,936.4 2251.4,934.7 2253.7,932.8 2255.9,930.7 2258.1,928.7 2258.2,928.6 2266.4,920.5 2273.7,913.9 2280.3,905.7 2287.7,900.8 2294.2,903.7 2302.4,910.6 2309.8,917.2 2317.1,920.5 2324.1,923.7 2331.0,931.5 2338.4,941.7 2346.6,949.9 2354.0,947.5 2357.2,938.5 2360.5,930.3 2367.9,922.1 2375.2,927.0 2382.6,927.8 2390.8,931.5 2397.3,949.1 2400.6,965.5 2405.0,993.3"/>
</g>
<g font-family="'Liberation Serif',serif" font-size="55" fill="#262626">
<text x="208.3" y="1685.6" text-anchor="middle">1</text>
<text x="574.5" y="1685.6" text-anchor="middle">1.5</text>
<text x="940.6" y="1685.6" text-anchor="middle">2</text>
<text x="1306.8" y="1685.6" text-anchor="middle">2.5</text>
<text x="1672.9" y="1685.6" text-anchor="middle">3</text>
<text x="2039.1" y="1685.6" text-anchor="middle">3.5</text>
<text x="2405.2" y="1685.6" text-anchor="middle">4</text>
<text x="184.3" y="89.6" text-anchor="end">0</text>
<text x="184.3" y="346.4" text-anchor="end">-5</text>
<text x="184.3" y="603.2" text-anchor="end">-10</text>
<text x="184.3" y="860.0" text-anchor="end">-15</text>
<text x="184.3" y="1116.7" text-anchor="end">-20</text>
<text x="184.3" y="1373.5" text-anchor="end">-25</text>
<text x="184.3" y="1630.3" text-anchor="end">-30</text>
</g>
<g font-family="'Liberation Serif',serif" fill="#262626">
<text transform="matrix(0.9722,0,0,0.9926,1168.06,1760.11)" font-size="58" font-style="italic">ω</text>
<text transform="matrix(0.6385,0,0,1.2340,1232.25,1764.53)" font-size="58">[</text>
<text transform="matrix(1.1319,0,0,1.0300,1244.27,1761.00)" font-size="58">rad</text>
<text transform="matrix(1.1056,0,0,1.0269,1347.89,1761.10)" font-size="58">s</text>
<text transform="matrix(1.2947,0,0,1.2000,1372.21,1745.00)" font-size="41">−</text>
<text transform="matrix(0.9571,0,0,1.0346,1402.97,1738.40)" font-size="41">1</text>
<text transform="matrix(0.6385,0,0,1.2340,1427.22,1764.53)" font-size="58">]</text>
<text transform="matrix(0,-1.0903,1.0447,0,72.60,954.88)" font-size="58">E</text>
<text transform="matrix(0,-1.1283,1.0036,0,82.90,915.16)" font-size="41" font-style="italic">loss</text>
<text transform="matrix(0,-0.5692,1.2372,0,77.20,815.18)" font-size="58">[</text>
<text transform="matrix(0,-0.9455,1.2382,0,76.00,802.19)" font-size="58">%</text>
<text transform="matrix(0,-0.5846,1.2372,0,77.20,754.27)" font-size="58">]</text>
</g>
<rect x="1076.2" y="127.8" width="1275.7" height="267.0" fill="#fff" stroke="#262626" stroke-width="3.6"/>
<g font-family="'Liberation Sans',sans-serif" font-size="45" fill="#000">
<path d="M1096.3,168.2H1296.3" stroke="#A6D854" stroke-width="6.6" fill="none"/>
<text x="1312.4" y="184.9" textLength="1018" lengthAdjust="spacingAndGlyphs">14:39Z Leg 25 km perc. diff inside-outside wake</text>
<path d="M1096.3,230.6H1296.3" stroke="#E78AC3" stroke-width="6.6" fill="none"/>
<text x="1312.4" y="247.2" textLength="1018" lengthAdjust="spacingAndGlyphs">14:52Z Leg 35 km perc. diff inside-outside wake</text>
<path d="M1096.3,292.7H1296.3" stroke="#8DA0CB" stroke-width="6.6" fill="none"/>
<text x="1312.4" y="309.6" textLength="1018" lengthAdjust="spacingAndGlyphs">15:05Z Leg 45 km perc. diff inside-outside wake</text>
<path d="M1096.3,354.9H1296.3" stroke="#FC8D62" stroke-width="6.6" fill="none"/>
<text x="1312.4" y="371.7" textLength="1018" lengthAdjust="spacingAndGlyphs">15:18Z Leg 55 km perc. diff inside-outside wake</text>
</g>
</svg>
</body></html>
